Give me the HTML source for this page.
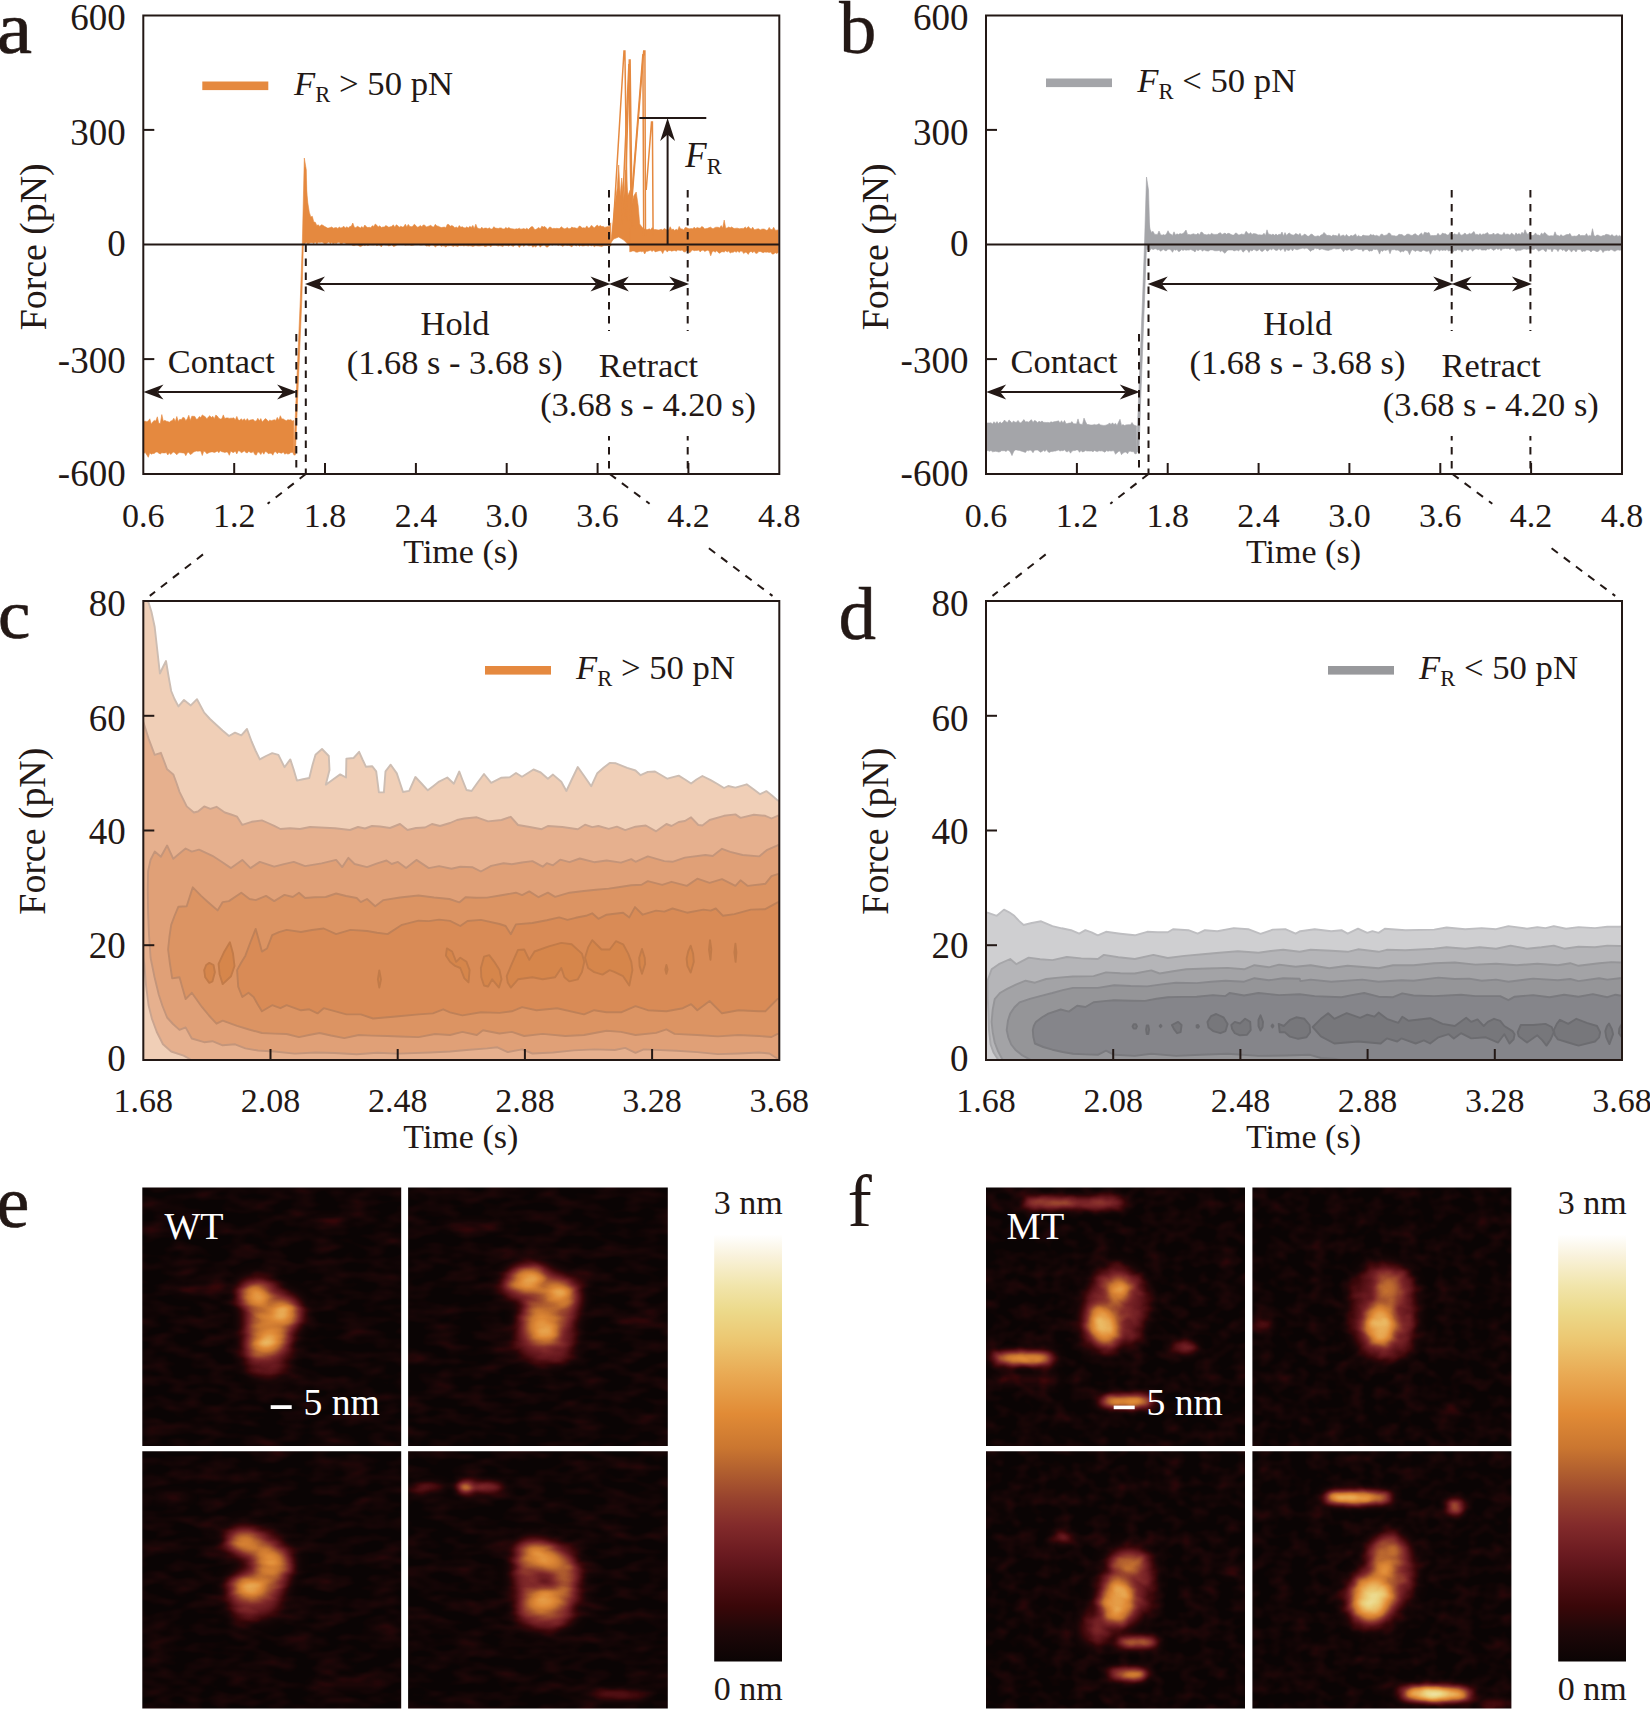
<!DOCTYPE html>
<html lang="en"><head><meta charset="utf-8"><title>Figure</title>
<style>html,body{margin:0;padding:0;background:#fff}svg{display:block}text{font-family:"Liberation Serif", "DejaVu Serif", serif;}</style></head><body>
<svg width="1650" height="1710" viewBox="0 0 1650 1710">
<rect width="1650" height="1710" fill="#fff"/>
<g fill="#E5893F" stroke="#E5893F" stroke-width="0.6" stroke-linejoin="round">
<polygon points="143.8,421.4 145.3,421.3 146.8,421.7 148.3,421 149.8,418.8 151.3,424.2 152.8,421.8 154.3,420.4 155.8,421 157.3,416.8 158.8,423.3 160.3,423.5 161.8,414.6 163.3,421.2 164.8,420.3 166.3,421.2 167.8,421.5 169.3,422.2 170.8,421.1 172.3,420.6 173.8,418.2 175.3,421.5 176.8,416.5 178.3,421.5 179.8,419.2 181.3,419.8 182.8,417.4 184.3,417.8 185.8,420.7 187.3,418.7 188.8,415.3 190.3,420.5 191.8,416.2 193.3,416.3 194.8,416.4 196.3,419.3 197.8,418.9 199.3,416.6 200.8,417.5 202.3,414.9 203.8,415.9 205.3,416.8 206.8,418.9 208.3,417.1 209.8,415.7 211.3,417.5 212.8,416.3 214.3,418.7 215.8,415.1 217.3,416.1 218.8,418.2 220.3,419.1 221.8,418.8 223.3,414.9 224.8,418.6 226.3,417.9 227.8,417.9 229.3,418.4 230.8,418.2 232.3,418.2 233.8,417.8 235.3,419.9 236.8,416.4 238.3,420.1 239.8,420.3 241.3,418.7 242.8,420.4 244.3,418.7 245.8,421 247.3,418.6 248.8,420.7 250.3,420 251.8,419.7 253.3,419.5 254.8,421.2 256.3,420.9 257.8,418.3 259.3,420.8 260.8,418.6 262.3,421.9 263.8,420.2 265.3,418.6 266.8,419.6 268.3,421.4 269.8,420 271.3,420.7 272.8,420.2 274.3,419.7 275.8,420.4 277.3,417.4 278.8,420.2 280.3,415.7 281.8,418.9 283.3,418.9 284.8,420 286.3,420.8 287.8,419.7 289.3,420 290.8,419.7 292.3,420.9 293.8,420.6 293.8,454.1 292.3,452.3 290.8,452.5 289.3,453.7 287.8,454.1 286.3,453.2 284.8,454.2 283.3,452 281.8,453.2 280.3,452.9 278.8,452.3 277.3,453.7 275.8,451.8 274.3,452.1 272.8,455.2 271.3,453.2 269.8,453.2 268.3,453.7 266.8,452 265.3,451.5 263.8,454.2 262.3,451.8 260.8,454.5 259.3,452.5 257.8,451.8 256.3,455.1 254.8,454.5 253.3,451.6 251.8,452.6 250.3,452.4 248.8,451.2 247.3,452.9 245.8,452.5 244.3,450.8 242.8,451.9 241.3,452.8 239.8,451.1 238.3,450.7 236.8,453.9 235.3,451 233.8,452.5 232.3,452.2 230.8,451 229.3,455.3 227.8,452.3 226.3,451.9 224.8,452.5 223.3,452 221.8,451.7 220.3,450.8 218.8,452.7 217.3,451 215.8,451.9 214.3,452.5 212.8,451.9 211.3,451.9 209.8,452.3 208.3,453 206.8,453.7 205.3,451.8 203.8,451 202.3,455.5 200.8,451.1 199.3,451.1 197.8,451.2 196.3,451 194.8,451.5 193.3,452.3 191.8,453.7 190.3,454.6 188.8,452.2 187.3,452.8 185.8,455.7 184.3,453.1 182.8,452.9 181.3,452.7 179.8,452.6 178.3,453 176.8,454.8 175.3,453.3 173.8,452 172.3,452.8 170.8,454.5 169.3,452.7 167.8,454.9 166.3,452.6 164.8,452.9 163.3,452.9 161.8,452.8 160.3,453.9 158.8,453.2 157.3,452 155.8,452 154.3,453.5 152.8,453.5 151.3,454.2 149.8,452.8 148.3,457.3 146.8,454.9 145.3,452.6 143.8,453.2"/>
<polygon points="293.8,455 296,400 300.3,300 302.3,244 304.3,158 306.3,170 307.8,240 303.3,246 301.8,300 297.6,400 295.3,455"/>
<polygon points="304.8,167.1 306.3,189 307.8,202.8 309.3,212.2 310.8,217 312.3,216.3 313.8,222 315.3,222.3 316.8,225.6 318.3,224.8 319.8,226.6 321.3,224.8 322.8,225.2 324.3,226.3 325.8,227.1 327.3,228 328.8,228 330.3,227.5 331.8,226.9 333.3,228.2 334.8,227.8 336.3,227.6 337.8,228.4 339.3,227.1 340.8,228.1 342.3,227.4 343.8,226.3 345.3,228.1 346.8,226.8 348.3,227.9 349.8,226.6 351.3,226.2 352.8,223 354.3,227.3 355.8,227.8 357.3,226.2 358.8,227 360.3,228 361.8,226.6 363.3,228 364.8,225 366.3,226.8 367.8,227.6 369.3,227.3 370.8,227.7 372.3,225.7 373.8,226.4 375.3,224 376.8,225.3 378.3,226.9 379.8,225.8 381.3,227.5 382.8,227 384.3,227 385.8,225.6 387.3,226.3 388.8,227.3 390.3,226.7 391.8,226.4 393.3,224.8 394.8,227.3 396.3,224.8 397.8,225.7 399.3,227.2 400.8,226.2 402.3,227.1 403.8,226.8 405.3,224.2 406.8,226.9 408.3,224.4 409.8,226.4 411.3,226.7 412.8,226.3 414.3,224.2 415.8,225.5 417.3,227.2 418.8,226.8 420.3,225.5 421.8,226.7 423.3,224.9 424.8,225.2 426.3,227 427.8,226.5 429.3,225.9 430.8,225.2 432.3,226.8 433.8,227 435.3,224.3 436.8,226 438.3,226.2 439.8,227 441.3,227.6 442.8,227.3 444.3,227.1 445.8,227.7 447.3,224.4 448.8,224.5 450.3,226.3 451.8,225.5 453.3,226.3 454.8,227.7 456.3,227 457.8,228.1 459.3,225.5 460.8,227.3 462.3,226.7 463.8,227.7 465.3,227.9 466.8,226.8 468.3,228.1 469.8,226.3 471.3,227.5 472.8,225.4 474.3,228.5 475.8,224.2 477.3,228 478.8,228.5 480.3,228.9 481.8,227.2 483.3,228.8 484.8,228.1 486.3,228.1 487.8,228.8 489.3,227.8 490.8,229 492.3,229.1 493.8,226.7 495.3,228 496.8,228.3 498.3,228.5 499.8,227.9 501.3,228 502.8,228.9 504.3,228.9 505.8,227.5 507.3,228.5 508.8,227.5 510.3,228.5 511.8,228.8 513.3,228.9 514.8,229.2 516.3,228.8 517.8,229 519.3,228.2 520.8,229.2 522.3,228.9 523.8,228.5 525.3,229.3 526.8,228.2 528.3,229.6 529.8,228.1 531.3,226.7 532.8,226.7 534.3,229.2 535.8,229.6 537.3,228.5 538.8,227.4 540.3,229.1 541.8,226.2 543.3,227.1 544.8,226.5 546.3,228.1 547.8,229.4 549.3,227.2 550.8,227.2 552.3,228.7 553.8,228.3 555.3,228.5 556.8,228.3 558.3,228.6 559.8,228.5 561.3,226.7 562.8,227.9 564.3,228.8 565.8,228.5 567.3,227.4 568.8,228.7 570.3,228.5 571.8,227.1 573.3,227.8 574.8,227.7 576.3,228.3 577.8,228.2 579.3,226 580.8,226.5 582.3,228.1 583.8,227.7 585.3,228.2 586.8,225.9 588.3,228.1 589.8,227.8 591.3,225.4 592.8,226.4 594.3,227.9 595.8,226.3 597.3,225.1 598.8,226.6 600.3,225.5 601.8,226.6 603.3,226.4 604.8,227.4 606.3,226.9 607.8,226.6 609.3,226.7 610.8,222.8 610.8,246 609.3,245.9 607.8,245.5 606.3,245.4 604.8,245.4 603.3,245.7 601.8,246.5 600.3,246.2 598.8,246 597.3,245.9 595.8,245.7 594.3,246.8 592.8,245.3 591.3,245.9 589.8,245.1 588.3,246.1 586.8,245.6 585.3,245.5 583.8,245.9 582.3,246 580.8,245.3 579.3,246.2 577.8,244.8 576.3,245.9 574.8,245.1 573.3,245.1 571.8,246.9 570.3,245.9 568.8,245.3 567.3,245.5 565.8,245.1 564.3,245.2 562.8,246.4 561.3,245.5 559.8,244.5 558.3,245.6 556.8,244.4 555.3,244.7 553.8,244.4 552.3,245.2 550.8,244.4 549.3,245.2 547.8,247.1 546.3,247.1 544.8,245 543.3,245 541.8,245.4 540.3,247.2 538.8,244.7 537.3,244.9 535.8,247.1 534.3,246.1 532.8,247.2 531.3,245 529.8,245.8 528.3,245.8 526.8,244.5 525.3,244.8 523.8,246.5 522.3,244.6 520.8,245.4 519.3,247.4 517.8,245.1 516.3,244.6 514.8,245.1 513.3,246.5 511.8,245.8 510.3,244.9 508.8,246.2 507.3,245.5 505.8,245.4 504.3,245.3 502.8,246.5 501.3,246 499.8,245.6 498.3,246.1 496.8,245.6 495.3,245.2 493.8,245.3 492.3,245.2 490.8,246.8 489.3,245.6 487.8,245.6 486.3,246.3 484.8,246.5 483.3,245.6 481.8,245.7 480.3,245.9 478.8,246.1 477.3,245.9 475.8,245.6 474.3,246 472.8,246.5 471.3,246 469.8,245.7 468.3,246.1 466.8,245.7 465.3,245.6 463.8,246 462.3,245.5 460.8,245.7 459.3,245.4 457.8,246.4 456.3,246.1 454.8,245.7 453.3,246.4 451.8,245.8 450.3,245.4 448.8,245.8 447.3,245.8 445.8,247 444.3,246.1 442.8,245.7 441.3,246.4 439.8,245.1 438.3,245.3 436.8,245.7 435.3,247.1 433.8,245.2 432.3,245 430.8,244.9 429.3,246.3 427.8,245.8 426.3,246 424.8,244.8 423.3,244.7 421.8,245.1 420.3,245.1 418.8,244.6 417.3,244.7 415.8,244.7 414.3,244.9 412.8,245.3 411.3,245.4 409.8,244.9 408.3,245 406.8,245 405.3,245.3 403.8,244.6 402.3,244.7 400.8,244.6 399.3,244.6 397.8,244.6 396.3,245.3 394.8,246.2 393.3,246.4 391.8,244.5 390.3,245.4 388.8,246 387.3,245 385.8,245 384.3,244.6 382.8,244.4 381.3,246.9 379.8,245.1 378.3,244.9 376.8,245.7 375.3,244.5 373.8,245 372.3,245 370.8,244.8 369.3,244.9 367.8,245.6 366.3,244.8 364.8,245.6 363.3,245 361.8,246 360.3,246.6 358.8,245.8 357.3,245 355.8,245 354.3,245.6 352.8,245.5 351.3,244.6 349.8,244.6 348.3,244.3 346.8,244.5 345.3,243.2 343.8,242.8 342.3,243.5 340.8,244.5 339.3,242.2 337.8,242.4 336.3,243.5 334.8,242.9 333.3,244 331.8,242.6 330.3,243.7 328.8,242 327.3,242.9 325.8,243.7 324.3,243.7 322.8,242.4 321.3,242.2 319.8,242.5 318.3,242.3 316.8,244 315.3,242 313.8,243.7 312.3,242.7 310.8,242.7 309.3,243.3 307.8,245 306.3,242.3 304.8,242.3"/>
<polygon points="610.7,243 612.7,225 614.7,205 617.2,188 618.7,165 620.2,196 621.7,178 623.7,200 625.7,170 627.7,196 630.2,190 631.7,205 633.7,196 636.2,192 638.2,206 639.7,224 642.7,228 645.7,230 645.7,246 629.7,246 623.7,240 618.7,237 613.7,239"/>
<polygon points="629.7,228.8 631.2,225.8 632.7,224.1 634.2,228.8 635.7,228 637.2,227.2 638.7,229.1 640.2,229 641.7,229 643.2,229 644.7,229.2 646.2,229.4 647.7,229.6 649.2,228.8 650.7,229.8 652.2,227.6 653.7,229.7 655.2,229.5 656.7,229.7 658.2,230.1 659.7,229.8 661.2,229.3 662.7,230.1 664.2,228.5 665.7,229.3 667.2,230 668.7,229.8 670.2,226.7 671.7,229.7 673.2,229.1 674.7,230.4 676.2,229.3 677.7,230.2 679.2,226.4 680.7,228.9 682.2,228.9 683.7,229.9 685.2,227.4 686.7,227.7 688.2,228.6 689.7,228.8 691.2,228.6 692.7,228.8 694.2,227.2 695.7,228.6 697.2,227.5 698.7,228 700.2,228.3 701.7,226.5 703.2,227.2 704.7,228.9 706.2,228.5 707.7,228.3 709.2,227.6 710.7,227.2 712.2,228.6 713.7,228.4 715.2,227.4 716.7,227.2 718.2,227.3 719.7,228 721.2,225.6 722.7,227.9 724.2,220.1 725.7,228.2 727.2,227.9 728.7,227 730.2,227.8 731.7,226.9 733.2,228.1 734.7,228.5 736.2,228.2 737.7,228.2 739.2,228.8 740.7,228.6 742.2,228.4 743.7,228.4 745.2,227 746.7,228.4 748.2,226.6 749.7,227.9 751.2,229.3 752.7,227.2 754.2,229.7 755.7,229.4 757.2,228.9 758.7,228.8 760.2,229.9 761.7,229.2 763.2,229 764.7,229.3 766.2,230.3 767.7,230.1 769.2,227.4 770.7,229.5 772.2,229.7 773.7,227.3 775.2,230.2 776.7,230.2 778.2,229.9 778.2,252.5 776.7,253.4 775.2,252.7 773.7,253.9 772.2,254.1 770.7,252 769.2,252.5 767.7,252.1 766.2,252.2 764.7,251.9 763.2,252.7 761.7,252.1 760.2,251.4 758.7,251.6 757.2,253.3 755.7,253.3 754.2,251.2 752.7,252.7 751.2,251.4 749.7,251.9 748.2,254.4 746.7,252.6 745.2,252.2 743.7,253.6 742.2,251.3 740.7,251 739.2,252.4 737.7,251.1 736.2,252.3 734.7,251.3 733.2,252.3 731.7,252.2 730.2,253.1 728.7,250.9 727.2,252 725.7,250.7 724.2,252.1 722.7,251.7 721.2,252 719.7,253.3 718.2,252.4 716.7,250.8 715.2,252.2 713.7,251.1 712.2,251.7 710.7,255.8 709.2,251 707.7,250.2 706.2,250.7 704.7,251.6 703.2,250 701.7,250.4 700.2,251.9 698.7,250.1 697.2,250.4 695.7,250.4 694.2,250.7 692.7,249.9 691.2,251 689.7,252.9 688.2,250.5 686.7,250.6 685.2,252 683.7,251.8 682.2,249.9 680.7,250.5 679.2,250.3 677.7,250 676.2,251.2 674.7,250.4 673.2,250.7 671.7,251.2 670.2,250.4 668.7,250.6 667.2,251.9 665.7,250 664.2,250.2 662.7,253.6 661.2,250.7 659.7,250.7 658.2,251 656.7,251.4 655.2,251.9 653.7,250.1 652.2,251.6 650.7,250.3 649.2,250.7 647.7,251.3 646.2,251.3 644.7,254 643.2,251.1 641.7,251.8 640.2,251.2 638.7,251.7 637.2,252.2 635.7,252 634.2,251 632.7,250.9 631.2,251.5 629.7,251.8"/>
</g>
<g fill="none" stroke="#E5893F" stroke-width="1.5" stroke-linejoin="miter" stroke-miterlimit="10">
<polyline points="612.7,236 624,51 624.9,51 627.2,222"/>
<polyline points="624.7,220 629.3,60 630.1,60 632.2,228"/>
<polyline points="621.7,225 628.9,64 631.2,215"/>
<polyline points="630.7,215 643.7,51 644.9,51 645.5,236"/>
<polyline points="629.7,222 642.9,54 643.7,236"/>
<polyline points="646.2,190 651.5,122 652.4,122 653.1,236"/>
</g>
<line x1="143.3" y1="244.5" x2="779.3" y2="244.5" stroke="#231815" stroke-width="2"/>
<rect x="143.3" y="15.5" width="636" height="458.5" fill="none" stroke="#231815" stroke-width="2"/>
<line x1="234.2" y1="474" x2="234.2" y2="463" stroke="#231815" stroke-width="2"/>
<line x1="325" y1="474" x2="325" y2="463" stroke="#231815" stroke-width="2"/>
<line x1="415.9" y1="474" x2="415.9" y2="463" stroke="#231815" stroke-width="2"/>
<line x1="506.7" y1="474" x2="506.7" y2="463" stroke="#231815" stroke-width="2"/>
<line x1="597.6" y1="474" x2="597.6" y2="463" stroke="#231815" stroke-width="2"/>
<line x1="688.4" y1="474" x2="688.4" y2="463" stroke="#231815" stroke-width="2"/>
<line x1="143.3" y1="129.9" x2="154.3" y2="129.9" stroke="#231815" stroke-width="2"/>
<line x1="143.3" y1="359.1" x2="154.3" y2="359.1" stroke="#231815" stroke-width="2"/>
<text x="143.3" y="527" font-size="34" text-anchor="middle" fill="#231815">0.6</text>
<text x="234.2" y="527" font-size="34" text-anchor="middle" fill="#231815">1.2</text>
<text x="325" y="527" font-size="34" text-anchor="middle" fill="#231815">1.8</text>
<text x="415.9" y="527" font-size="34" text-anchor="middle" fill="#231815">2.4</text>
<text x="506.7" y="527" font-size="34" text-anchor="middle" fill="#231815">3.0</text>
<text x="597.6" y="527" font-size="34" text-anchor="middle" fill="#231815">3.6</text>
<text x="688.4" y="527" font-size="34" text-anchor="middle" fill="#231815">4.2</text>
<text x="779.3" y="527" font-size="34" text-anchor="middle" fill="#231815">4.8</text>
<text x="125.7" y="29.6" font-size="37" text-anchor="end" fill="#231815">600</text>
<text x="125.7" y="144.7" font-size="37" text-anchor="end" fill="#231815">300</text>
<text x="125.7" y="256.4" font-size="37" text-anchor="end" fill="#231815">0</text>
<text x="125.7" y="372.5" font-size="37" text-anchor="end" fill="#231815">-300</text>
<text x="125.7" y="486.1" font-size="37" text-anchor="end" fill="#231815">-600</text>
<text x="460.8" y="562.5" font-size="34" text-anchor="middle" fill="#231815">Time (s)</text>
<text transform="translate(45.6 246.8) rotate(-90)" font-size="37.8" text-anchor="middle" fill="#231815">Force (pN)</text>
<line x1="296.3" y1="334" x2="296.3" y2="474" stroke="#231815" stroke-width="2" stroke-dasharray="7.5 6.5"/>
<line x1="305.8" y1="244.5" x2="305.8" y2="474" stroke="#231815" stroke-width="2" stroke-dasharray="7.5 6.5"/>
<line x1="609" y1="190" x2="609" y2="331" stroke="#231815" stroke-width="2" stroke-dasharray="7.5 6.5"/>
<line x1="609" y1="436" x2="609" y2="474" stroke="#231815" stroke-width="2" stroke-dasharray="7.5 6.5" stroke-dashoffset="3"/>
<line x1="687.7" y1="190" x2="687.7" y2="331" stroke="#231815" stroke-width="2" stroke-dasharray="7.5 6.5"/>
<line x1="687.7" y1="436" x2="687.7" y2="474" stroke="#231815" stroke-width="2" stroke-dasharray="7.5 6.5" stroke-dashoffset="3"/>
<line x1="157.5" y1="392" x2="283.1" y2="392" stroke="#231815" stroke-width="2"/>
<path d="M143.5 392 L163.5 384.4 L157.5 392 L163.5 399.6 Z" fill="#231815"/>
<path d="M297.1 392 L277.1 384.4 L283.1 392 L277.1 399.6 Z" fill="#231815"/>
<line x1="319" y1="284" x2="596.5" y2="284" stroke="#231815" stroke-width="2"/>
<path d="M305 284 L325 276.4 L319 284 L325 291.6 Z" fill="#231815"/>
<path d="M610.5 284 L590.5 276.4 L596.5 284 L590.5 291.6 Z" fill="#231815"/>
<line x1="622.9" y1="284" x2="675.2" y2="284" stroke="#231815" stroke-width="2"/>
<path d="M608.9 284 L628.9 276.4 L622.9 284 L628.9 291.6 Z" fill="#231815"/>
<path d="M689.2 284 L669.2 276.4 L675.2 284 L669.2 291.6 Z" fill="#231815"/>
<text x="221.3" y="372.5" font-size="34.4" text-anchor="middle" fill="#231815">Contact</text>
<text x="455" y="335" font-size="34.4" text-anchor="middle" fill="#231815">Hold</text>
<text x="454.8" y="374" font-size="34.4" text-anchor="middle" fill="#231815">(1.68 s - 3.68 s)</text>
<text x="648.5" y="376.5" font-size="34.4" text-anchor="middle" fill="#231815">Retract</text>
<text x="648.1" y="415.5" font-size="34.4" text-anchor="middle" fill="#231815">(3.68 s - 4.20 s)</text>
<rect x="202.3" y="81.5" width="66" height="8.6" fill="#E5893F"/>
<text x="294.1" y="95" font-size="34.7" text-anchor="start" fill="#231815"><tspan font-style="italic">F</tspan><tspan dy="7" font-size="22.6">R</tspan><tspan dy="-7"> &gt; 50 pN</tspan></text>
<line x1="639.3" y1="118" x2="706.3" y2="118" stroke="#231815" stroke-width="2"/>
<line x1="667.6" y1="132" x2="667.6" y2="244.5" stroke="#231815" stroke-width="2"/>
<path d="M667.6 118 l-7.4 23 l7.4 -6.5 l7.4 6.5 Z" fill="#231815"/>
<text x="685.3" y="167" font-size="35" text-anchor="start" fill="#231815"><tspan font-style="italic">F</tspan><tspan dy="7" font-size="22.5">R</tspan></text>
<line x1="305.8" y1="474" x2="267.6" y2="503.8" stroke="#231815" stroke-width="2" stroke-dasharray="7.8 7.4"/>
<line x1="203" y1="554.4" x2="149.8" y2="595.9" stroke="#231815" stroke-width="2" stroke-dasharray="7.8 7.4"/>
<line x1="609.7" y1="474" x2="649.6" y2="503.8" stroke="#231815" stroke-width="2" stroke-dasharray="7.8 7.4"/>
<line x1="708.9" y1="548.3" x2="772.5" y2="595.9" stroke="#231815" stroke-width="2" stroke-dasharray="7.8 7.4"/>
<g fill="#A4A5A9" stroke="#A4A5A9" stroke-width="0.6" stroke-linejoin="round">
<polygon points="986.5,423.1 988,422.9 989.5,422.9 991,422.8 992.5,424 994,421.7 995.5,423.4 997,421.6 998.5,423.8 1000,421.8 1001.5,423.2 1003,422.2 1004.5,420 1006,421.8 1007.5,422.5 1009,419.9 1010.5,421.3 1012,422.9 1013.5,421 1015,422.3 1016.5,422.2 1018,420.4 1019.5,422.4 1021,423.1 1022.5,421 1024,419.6 1025.5,422.1 1027,421.6 1028.5,422.2 1030,420.7 1031.5,419.7 1033,422.6 1034.5,420.5 1036,421.1 1037.5,422.7 1039,421.2 1040.5,422.1 1042,421 1043.5,422.3 1045,422.4 1046.5,422.5 1048,422.4 1049.5,422.7 1051,421.8 1052.5,422.3 1054,421.8 1055.5,421.6 1057,421.3 1058.5,420.8 1060,423.1 1061.5,420.7 1063,423.1 1064.5,420.5 1066,423.7 1067.5,423.5 1069,423.1 1070.5,423 1072,421.6 1073.5,423.8 1075,423.8 1076.5,423.9 1078,418.9 1079.5,424.1 1081,424.2 1082.5,424.4 1084,418.1 1085.5,421.6 1087,424.6 1088.5,424.5 1090,424.9 1091.5,425 1093,424.9 1094.5,424.4 1096,425 1097.5,424.6 1099,423.7 1100.5,424.9 1102,425.2 1103.5,425.4 1105,425.4 1106.5,424.9 1108,424.5 1109.5,422.9 1111,424.5 1112.5,422.8 1114,424.6 1115.5,423.3 1117,425.4 1118.5,422.3 1120,419.3 1121.5,425.4 1123,424.6 1124.5,425.5 1126,424.9 1127.5,424.7 1129,424.7 1130.5,424.7 1132,422.5 1133.5,424.8 1135,425.5 1136.5,425.9 1136.5,453.5 1135,453.9 1133.5,451.4 1132,451.8 1130.5,451.2 1129,451.3 1127.5,453.8 1126,451.9 1124.5,452.2 1123,453.1 1121.5,454.7 1120,450.9 1118.5,451.4 1117,452.7 1115.5,454.3 1114,450.8 1112.5,450.8 1111,451.1 1109.5,450.8 1108,451.3 1106.5,450.6 1105,452.2 1103.5,451.5 1102,450.8 1100.5,451 1099,450.7 1097.5,451.6 1096,451.2 1094.5,450.4 1093,451.7 1091.5,450.9 1090,451.1 1088.5,451 1087,451 1085.5,450.6 1084,451.4 1082.5,452 1081,450.5 1079.5,452.3 1078,449.9 1076.5,449.9 1075,450.5 1073.5,450.6 1072,451.1 1070.5,453.2 1069,450.6 1067.5,451.7 1066,451.6 1064.5,449.7 1063,450.7 1061.5,450.6 1060,451 1058.5,450.1 1057,450.4 1055.5,451.1 1054,451.1 1052.5,451.6 1051,451.4 1049.5,452.4 1048,451.8 1046.5,449.6 1045,451.5 1043.5,450.3 1042,451.4 1040.5,452.2 1039,451 1037.5,450.1 1036,450.1 1034.5,450.2 1033,452.7 1031.5,450.7 1030,449.9 1028.5,450.8 1027,450.2 1025.5,452.4 1024,451.9 1022.5,451.4 1021,451 1019.5,450.4 1018,450.3 1016.5,449.9 1015,449.9 1013.5,451.9 1012,455.6 1010.5,452.4 1009,450.4 1007.5,450.2 1006,451.5 1004.5,450.7 1003,450.7 1001.5,450.7 1000,451.8 998.5,452 997,451.5 995.5,451.3 994,451.6 992.5,451.8 991,450.4 989.5,451.3 988,450.5 986.5,450.9"/>
<polygon points="1136.5,452 1138.5,400 1142.5,300 1144.5,244 1146.5,177 1148.5,190 1150,240 1146.5,246 1144.5,300 1140.7,400 1139,452"/>
<polygon points="1147,201 1148.5,222.2 1150,229.2 1151.5,232.4 1153,231.3 1154.5,234.2 1156,234.4 1157.5,234.4 1159,231 1160.5,234.4 1162,235.3 1163.5,234.6 1165,235.3 1166.5,233.7 1168,230.7 1169.5,233.6 1171,234.3 1172.5,235.4 1174,231.8 1175.5,235.1 1177,233.8 1178.5,234.6 1180,233.6 1181.5,234 1183,233.5 1184.5,232.1 1186,230 1187.5,234.4 1189,234.6 1190.5,234.8 1192,234.2 1193.5,233.8 1195,234.4 1196.5,234.5 1198,233.3 1199.5,235.1 1201,232 1202.5,232.6 1204,234.4 1205.5,234.6 1207,235 1208.5,234.1 1210,234.9 1211.5,233.2 1213,234.2 1214.5,234.4 1216,234.4 1217.5,234.3 1219,233.2 1220.5,232.7 1222,234.6 1223.5,233.7 1225,233.1 1226.5,234.3 1228,233.3 1229.5,233.5 1231,234.5 1232.5,235 1234,235.1 1235.5,233 1237,233.4 1238.5,235 1240,234.8 1241.5,234 1243,234.4 1244.5,234.4 1246,231.3 1247.5,232.7 1249,234.3 1250.5,232.6 1252,234.4 1253.5,233.6 1255,233.7 1256.5,234.1 1258,235 1259.5,234.8 1261,235 1262.5,235 1264,233.2 1265.5,235.6 1267,229.8 1268.5,234.3 1270,234.2 1271.5,234.9 1273,234.1 1274.5,235.2 1276,234 1277.5,235.3 1279,234.3 1280.5,234.6 1282,232 1283.5,235.9 1285,232.6 1286.5,235.4 1288,233.7 1289.5,233.1 1291,234.5 1292.5,234.9 1294,235.2 1295.5,233.6 1297,234.1 1298.5,235.1 1300,233.3 1301.5,236.2 1303,235.5 1304.5,234 1306,234.8 1307.5,236.1 1309,236.3 1310.5,234.4 1312,234.1 1313.5,235.6 1315,236.5 1316.5,236.2 1318,235.8 1319.5,236.4 1321,235 1322.5,234.6 1324,232.4 1325.5,233.9 1327,235.6 1328.5,235.3 1330,235.5 1331.5,236.3 1333,234.9 1334.5,235.5 1336,235.5 1337.5,236.3 1339,233.4 1340.5,236.4 1342,235.5 1343.5,234.9 1345,236.6 1346.5,234.4 1348,236.3 1349.5,236.6 1351,235.3 1352.5,235.9 1354,235.2 1355.5,233.9 1357,236.8 1358.5,235.4 1360,236.5 1361.5,236.5 1363,235.1 1364.5,235.5 1366,235.8 1367.5,235.8 1369,235.9 1370.5,234.3 1372,235.3 1373.5,234.7 1375,235.9 1376.5,235.3 1378,236 1379.5,236.4 1381,234.2 1382.5,234.2 1384,235.8 1385.5,235.2 1387,234.9 1388.5,233 1390,233.3 1391.5,235.4 1393,235.8 1394.5,235.7 1396,236.3 1397.5,235.7 1399,234.3 1400.5,234.5 1402,234.6 1403.5,235.8 1405,236.1 1406.5,234.4 1408,234.1 1409.5,234.4 1411,235.4 1412.5,235.3 1414,234.2 1415.5,233.7 1417,235.3 1418.5,235.7 1420,234.3 1421.5,232.9 1423,235.6 1424.5,232.2 1426,232.7 1427.5,233.1 1429,232.5 1430.5,235.7 1432,235.6 1433.5,235.6 1435,235.4 1436.5,235.6 1438,233.3 1439.5,235.3 1441,235.1 1442.5,233 1444,233.8 1445.5,233.7 1447,235 1448.5,235 1450,232.6 1451.5,234.9 1453,234.8 1454.5,233.8 1456,234.5 1457.5,234.8 1459,232.2 1460.5,234.9 1462,235.2 1463.5,234.2 1465,233 1466.5,234.7 1468,234.5 1469.5,233.3 1471,234.2 1472.5,232.8 1474,231.5 1475.5,234.7 1477,234.2 1478.5,234.9 1480,233.6 1481.5,235 1483,233.9 1484.5,234.2 1486,233.4 1487.5,232.6 1489,234.7 1490.5,234.6 1492,234.6 1493.5,233 1495,234.9 1496.5,233.9 1498,233.6 1499.5,234.4 1501,234.9 1502.5,234.8 1504,232.4 1505.5,234.7 1507,234 1508.5,234.3 1510,235.2 1511.5,233.1 1513,234.2 1514.5,235.4 1516,232.8 1517.5,234.5 1519,233.6 1520.5,234.7 1522,232.2 1523.5,233.9 1525,229.7 1526.5,232.9 1528,234.6 1529.5,232.3 1531,235.6 1532.5,235.5 1534,235.1 1535.5,232.9 1537,235 1538.5,235 1540,235.8 1541.5,233 1543,234.4 1544.5,232.4 1546,233.6 1547.5,235.2 1549,236.1 1550.5,235.8 1552,235.8 1553.5,236 1555,231.8 1556.5,235.3 1558,235.4 1559.5,236.3 1561,234.6 1562.5,236.1 1564,235.9 1565.5,235 1567,234.5 1568.5,234.5 1570,233.4 1571.5,236.3 1573,236.3 1574.5,236 1576,236.3 1577.5,235.8 1579,234.1 1580.5,235.7 1582,235.4 1583.5,235.5 1585,235.7 1586.5,233.6 1588,236.2 1589.5,235.4 1591,236.1 1592.5,228.7 1594,235.7 1595.5,236.2 1597,235 1598.5,235.3 1600,236.3 1601.5,236.2 1603,235.6 1604.5,235.4 1606,234.3 1607.5,234.5 1609,234.9 1610.5,235.7 1612,234.6 1613.5,235.9 1615,236.3 1616.5,234.9 1618,236.4 1619.5,235.4 1621,236.5 1621,250.1 1619.5,250.2 1618,249.8 1616.5,250.2 1615,251.3 1613.5,250.8 1612,249.7 1610.5,249.8 1609,250.8 1607.5,250.3 1606,250.6 1604.5,250.7 1603,252.6 1601.5,249.9 1600,249.6 1598.5,251.2 1597,251.7 1595.5,251.1 1594,250.2 1592.5,250.4 1591,251.9 1589.5,250.4 1588,250 1586.5,250.1 1585,251.3 1583.5,250.9 1582,251.7 1580.5,249.6 1579,249.5 1577.5,249.6 1576,252 1574.5,250 1573,249.9 1571.5,252.1 1570,250.1 1568.5,249.3 1567,251.2 1565.5,251.4 1564,249.4 1562.5,250.6 1561,249.1 1559.5,249.1 1558,251.6 1556.5,249.4 1555,249.1 1553.5,248.9 1552,251.9 1550.5,248.8 1549,249.5 1547.5,248.5 1546,251.8 1544.5,250.7 1543,249.1 1541.5,249.7 1540,250.5 1538.5,251.2 1537,249.2 1535.5,248.4 1534,249.5 1532.5,249.6 1531,249 1529.5,249.2 1528,249.1 1526.5,249.4 1525,249 1523.5,249.1 1522,249.6 1520.5,250.3 1519,250.2 1517.5,250.3 1516,251.2 1514.5,248.7 1513,248.3 1511.5,248.4 1510,249.5 1508.5,248.5 1507,248.7 1505.5,248.4 1504,248.7 1502.5,248.8 1501,250.7 1499.5,248.5 1498,249.5 1496.5,248.4 1495,249.5 1493.5,250.4 1492,249.1 1490.5,248.4 1489,249.3 1487.5,248.9 1486,250.2 1484.5,249.9 1483,250.1 1481.5,250 1480,248.7 1478.5,249.6 1477,248.9 1475.5,249.1 1474,249.8 1472.5,251.2 1471,249.1 1469.5,249.3 1468,250.7 1466.5,249.9 1465,249.6 1463.5,249.4 1462,252.2 1460.5,249.8 1459,250.1 1457.5,249.6 1456,250.8 1454.5,250.3 1453,252.3 1451.5,250.8 1450,250.5 1448.5,250.9 1447,249.5 1445.5,250.5 1444,249.9 1442.5,250.5 1441,249.7 1439.5,251.1 1438,249.7 1436.5,249.6 1435,250.4 1433.5,249.7 1432,250.6 1430.5,254.3 1429,250.5 1427.5,251.3 1426,251.3 1424.5,250.5 1423,250 1421.5,251.6 1420,251.4 1418.5,250.8 1417,250.2 1415.5,251.4 1414,250.6 1412.5,249.8 1411,251.1 1409.5,254.7 1408,251 1406.5,250.5 1405,249.9 1403.5,251.8 1402,250.9 1400.5,252.3 1399,250.4 1397.5,250.1 1396,250.2 1394.5,249.6 1393,249.7 1391.5,249.7 1390,253.7 1388.5,249.6 1387,249.9 1385.5,250.5 1384,249.8 1382.5,251.4 1381,250.2 1379.5,254.1 1378,250.1 1376.5,249.3 1375,249.6 1373.5,249.1 1372,251 1370.5,250.7 1369,251.3 1367.5,249.4 1366,249.4 1364.5,249.8 1363,251.4 1361.5,249.2 1360,249.5 1358.5,249.4 1357,248.8 1355.5,248.9 1354,249.6 1352.5,250.5 1351,250.7 1349.5,249 1348,250 1346.5,250.2 1345,249.4 1343.5,251.7 1342,249.5 1340.5,248.3 1339,248.9 1337.5,248.9 1336,249.1 1334.5,248.6 1333,248.7 1331.5,249.6 1330,249.8 1328.5,250.5 1327,250.2 1325.5,250.1 1324,249.5 1322.5,249.1 1321,249 1319.5,249.9 1318,248.4 1316.5,248.8 1315,248.1 1313.5,249.9 1312,249.9 1310.5,251.5 1309,249.8 1307.5,248.6 1306,248.1 1304.5,248.8 1303,248.1 1301.5,248.4 1300,248.8 1298.5,249.3 1297,249.8 1295.5,249.2 1294,248.5 1292.5,250.9 1291,248.6 1289.5,250.2 1288,250.5 1286.5,249.3 1285,251.7 1283.5,248.6 1282,249.3 1280.5,250.6 1279,248.6 1277.5,250.2 1276,250.6 1274.5,249.4 1273,248.6 1271.5,249.9 1270,248.8 1268.5,250.6 1267,251.2 1265.5,248.9 1264,250.1 1262.5,251.4 1261,251.1 1259.5,249 1258,250.4 1256.5,250.9 1255,249.8 1253.5,249.5 1252,251.1 1250.5,249.9 1249,252.5 1247.5,250 1246,249.4 1244.5,250.9 1243,252.2 1241.5,249.7 1240,249.6 1238.5,250.9 1237,249.9 1235.5,250.6 1234,250.9 1232.5,250 1231,250 1229.5,250 1228,250.1 1226.5,251.3 1225,253.3 1223.5,252.2 1222,250.4 1220.5,251.8 1219,250.3 1217.5,250.7 1216,250.8 1214.5,250.7 1213,250 1211.5,249.9 1210,249.9 1208.5,251.1 1207,250.9 1205.5,250.6 1204,249.7 1202.5,251.3 1201,249.5 1199.5,249.7 1198,250.7 1196.5,249.5 1195,252 1193.5,250.7 1192,250 1190.5,249.5 1189,250.1 1187.5,250 1186,250.2 1184.5,249.7 1183,250.4 1181.5,249.5 1180,251.2 1178.5,251.6 1177,249.4 1175.5,250.3 1174,249.4 1172.5,252.3 1171,250 1169.5,249.3 1168,249.2 1166.5,250.7 1165,250.7 1163.5,249.2 1162,250.3 1160.5,251.3 1159,249.5 1157.5,249.9 1156,248.7 1154.5,248.9 1153,249.6 1151.5,248.5 1150,250.5 1148.5,250.4 1147,249.1"/>
</g>
<line x1="986" y1="244.5" x2="1622" y2="244.5" stroke="#231815" stroke-width="2"/>
<rect x="986" y="15.5" width="636" height="458.5" fill="none" stroke="#231815" stroke-width="2"/>
<line x1="1076.9" y1="474" x2="1076.9" y2="463" stroke="#231815" stroke-width="2"/>
<line x1="1167.7" y1="474" x2="1167.7" y2="463" stroke="#231815" stroke-width="2"/>
<line x1="1258.6" y1="474" x2="1258.6" y2="463" stroke="#231815" stroke-width="2"/>
<line x1="1349.4" y1="474" x2="1349.4" y2="463" stroke="#231815" stroke-width="2"/>
<line x1="1440.3" y1="474" x2="1440.3" y2="463" stroke="#231815" stroke-width="2"/>
<line x1="1531.1" y1="474" x2="1531.1" y2="463" stroke="#231815" stroke-width="2"/>
<line x1="986" y1="129.9" x2="997" y2="129.9" stroke="#231815" stroke-width="2"/>
<line x1="986" y1="359.1" x2="997" y2="359.1" stroke="#231815" stroke-width="2"/>
<text x="986" y="527" font-size="34" text-anchor="middle" fill="#231815">0.6</text>
<text x="1076.9" y="527" font-size="34" text-anchor="middle" fill="#231815">1.2</text>
<text x="1167.7" y="527" font-size="34" text-anchor="middle" fill="#231815">1.8</text>
<text x="1258.6" y="527" font-size="34" text-anchor="middle" fill="#231815">2.4</text>
<text x="1349.4" y="527" font-size="34" text-anchor="middle" fill="#231815">3.0</text>
<text x="1440.3" y="527" font-size="34" text-anchor="middle" fill="#231815">3.6</text>
<text x="1531.1" y="527" font-size="34" text-anchor="middle" fill="#231815">4.2</text>
<text x="1622" y="527" font-size="34" text-anchor="middle" fill="#231815">4.8</text>
<text x="968.4" y="29.6" font-size="37" text-anchor="end" fill="#231815">600</text>
<text x="968.4" y="144.7" font-size="37" text-anchor="end" fill="#231815">300</text>
<text x="968.4" y="256.4" font-size="37" text-anchor="end" fill="#231815">0</text>
<text x="968.4" y="372.5" font-size="37" text-anchor="end" fill="#231815">-300</text>
<text x="968.4" y="486.1" font-size="37" text-anchor="end" fill="#231815">-600</text>
<text x="1303.5" y="562.5" font-size="34" text-anchor="middle" fill="#231815">Time (s)</text>
<text transform="translate(888.3 246.8) rotate(-90)" font-size="37.8" text-anchor="middle" fill="#231815">Force (pN)</text>
<line x1="1139" y1="334" x2="1139" y2="474" stroke="#231815" stroke-width="2" stroke-dasharray="7.5 6.5"/>
<line x1="1148.5" y1="244.5" x2="1148.5" y2="474" stroke="#231815" stroke-width="2" stroke-dasharray="7.5 6.5"/>
<line x1="1451.7" y1="190" x2="1451.7" y2="331" stroke="#231815" stroke-width="2" stroke-dasharray="7.5 6.5"/>
<line x1="1451.7" y1="436" x2="1451.7" y2="474" stroke="#231815" stroke-width="2" stroke-dasharray="7.5 6.5" stroke-dashoffset="3"/>
<line x1="1530.4" y1="190" x2="1530.4" y2="331" stroke="#231815" stroke-width="2" stroke-dasharray="7.5 6.5"/>
<line x1="1530.4" y1="436" x2="1530.4" y2="474" stroke="#231815" stroke-width="2" stroke-dasharray="7.5 6.5" stroke-dashoffset="3"/>
<line x1="1000.2" y1="392" x2="1125.8" y2="392" stroke="#231815" stroke-width="2"/>
<path d="M986.2 392 L1006.2 384.4 L1000.2 392 L1006.2 399.6 Z" fill="#231815"/>
<path d="M1139.8 392 L1119.8 384.4 L1125.8 392 L1119.8 399.6 Z" fill="#231815"/>
<line x1="1161.7" y1="284" x2="1439.2" y2="284" stroke="#231815" stroke-width="2"/>
<path d="M1147.7 284 L1167.7 276.4 L1161.7 284 L1167.7 291.6 Z" fill="#231815"/>
<path d="M1453.2 284 L1433.2 276.4 L1439.2 284 L1433.2 291.6 Z" fill="#231815"/>
<line x1="1465.6" y1="284" x2="1517.9" y2="284" stroke="#231815" stroke-width="2"/>
<path d="M1451.6 284 L1471.6 276.4 L1465.6 284 L1471.6 291.6 Z" fill="#231815"/>
<path d="M1531.9 284 L1511.9 276.4 L1517.9 284 L1511.9 291.6 Z" fill="#231815"/>
<text x="1064" y="372.5" font-size="34.4" text-anchor="middle" fill="#231815">Contact</text>
<text x="1297.7" y="335" font-size="34.4" text-anchor="middle" fill="#231815">Hold</text>
<text x="1297.5" y="374" font-size="34.4" text-anchor="middle" fill="#231815">(1.68 s - 3.68 s)</text>
<text x="1491.2" y="376.5" font-size="34.4" text-anchor="middle" fill="#231815">Retract</text>
<text x="1490.8" y="415.5" font-size="34.4" text-anchor="middle" fill="#231815">(3.68 s - 4.20 s)</text>
<rect x="1046" y="78.5" width="66" height="8.6" fill="#A4A5A9"/>
<text x="1137.3" y="91.5" font-size="34.7" text-anchor="start" fill="#231815"><tspan font-style="italic">F</tspan><tspan dy="7" font-size="22.6">R</tspan><tspan dy="-7"> &lt; 50 pN</tspan></text>
<line x1="1148.5" y1="474" x2="1110.3" y2="503.8" stroke="#231815" stroke-width="2" stroke-dasharray="7.8 7.4"/>
<line x1="1045.7" y1="554.4" x2="992.5" y2="595.9" stroke="#231815" stroke-width="2" stroke-dasharray="7.8 7.4"/>
<line x1="1452.4" y1="474" x2="1492.3" y2="503.8" stroke="#231815" stroke-width="2" stroke-dasharray="7.8 7.4"/>
<line x1="1551.6" y1="548.3" x2="1615.2" y2="595.9" stroke="#231815" stroke-width="2" stroke-dasharray="7.8 7.4"/>
<clipPath id="clipc"><rect x="143.3" y="601" width="636" height="459"/></clipPath>
<g clip-path="url(#clipc)" stroke-width="1.9" stroke-linejoin="round">
<polygon points="143.3,596 148.5,602.4 151.5,612 154.7,627 157.5,652 159.9,673.5 163,667 166,661 168.5,676 171.2,691 174.5,699 178.4,706.4 184,700 190.8,705.4 197,699.2 204.2,712.6 210,719 216.5,725 222.5,730.5 229,736 235,732.6 241.3,735.3 247,729 251.6,741.5 255.5,750.5 259.8,759.4 266,756 272.2,753.2 278.4,754.8 284.5,767.2 290.3,759.4 293.5,769 296.9,780.6 303,779.2 309.3,778 312.5,765 315.5,754.8 322,749 328.8,756 329.5,770 325.8,784.7 333,779.5 340.2,774.4 346,777.5 346.4,758.6 353.6,758 359.1,751.8 362.5,759.5 366,766.8 372.1,766.2 376.2,771.3 378.9,792.4 383.9,792.4 385.5,771.3 390.7,764.7 396.8,773.4 403,792 409.2,790.9 415.4,777 421.5,783.5 427.8,790.3 433.5,786 439.1,781.6 447.3,777.5 453.9,783.7 459.3,771.5 462.5,780 466.5,790 471.6,791 478,782 484,774 491.2,782.8 501.5,777.7 509.8,777.3 516,773 522,776.7 528,773 533.5,769.5 540.7,772.5 547.9,778.7 553,774.6 561.3,781.8 566.4,791 572,779 577.8,767 584.5,776.5 591.2,786.3 597.3,773.2 603.5,767.8 609.7,762.9 615.9,763.3 627.2,767.8 635.5,770.5 640.6,775.2 647.8,771.9 655,771.5 661,775 667.4,778.7 678.7,775.6 685,779.5 691.1,783.5 696.5,779.5 702.4,776 710.7,780.2 717.5,784 724,788 728.2,786 735.4,787.6 746.7,784.3 753.5,789.2 760.1,794.2 766.3,791.1 772,795.5 777.6,800.4 779.3,801 779.3,1061 143.3,1061" fill="#F0CFB7" stroke="#CDBDB2"/>
<polygon points="143.3,721.9 148.5,738.4 154.7,754.8 160.9,752.8 164,761 167.1,769.3 173.3,774.4 176.5,783 179.5,791.9 186.7,806.4 193.9,812.5 198,811.5 204.2,806.4 210.4,808.8 216.5,806.8 224.8,812.5 231,814.5 237.1,816.7 242.3,824.9 251.6,821.8 261.9,820.4 268,823 274.2,825.9 280.4,829 290,828.2 300,829 310,827 320,827.5 335,828.2 350,830 358,827 365,828.5 372,826 380,826.5 390,828 400,824 407.5,830 416,828 425,827.5 432,824 440,826 450,823 457,820 464.4,818.5 476.8,817.3 488.1,821.4 501.5,820 510.8,816.8 518,825 528.3,826.7 541.7,829.2 547.9,826 562.3,827 577.8,829.2 585,824.7 592.2,827.1 598.4,826 608.7,828.8 616.9,826.7 625.2,830.2 635.5,826.7 645.8,825.5 656.1,831.3 666.4,824 671.5,826 678.7,822 684.9,821 691.1,817.3 698.3,825 702.4,825.5 709.6,820 724,815.8 735.4,814.4 740.5,817.9 753.9,814.8 765.3,815.8 771.5,818.5 777.6,815.8 779.3,815.5 779.3,1061 189.8,1061 189.8,1059 183.6,1055.6 171.2,1051.5 163,1044.3 156.8,1032 152,1019 148.5,1005 146,985 144.4,964 143.3,958" fill="#E6B08E" stroke="#C9A48F"/>
<polygon points="154.7,851.6 160.9,856.8 167.1,845.5 173.3,858.8 179.5,853.5 185.6,848.5 191.8,851.6 199,849.6 212.4,855.8 222,862 231,868.1 242.3,859.9 250.5,868.1 259.8,861.9 274.2,866.7 284,864.2 293.8,861.9 305.1,866.1 321.6,863.4 336.1,859.9 342.2,867.1 348.4,857.8 354.6,864 367,867.1 376.5,863.7 386.5,860.5 391.7,864 397.9,861.9 406.1,868.1 416.4,859.9 428.8,868.1 439.1,866.1 451.5,868.7 460.3,866.7 472.7,867.3 480.9,871.5 491.2,865.9 503.6,863.2 511.8,864.2 522,862.5 532.4,861.1 542.7,866.7 546.8,863.2 553,865.3 560.2,859.7 569.5,862.2 579.8,858.5 594.2,862.2 606.6,860.5 621,862.6 631.3,859.1 635.5,861.8 647.8,856.4 664.3,861.1 672.5,861.8 684.9,857.6 705.5,855 712.7,856 722,848.8 730.2,851.9 742.6,855 759.1,856.4 767.3,849.8 777.6,845.3 779.3,845 779.3,1058.7 777.6,1058.7 769.4,1053.5 759.1,1052.5 738.5,1053.5 717.9,1054.1 697.3,1052.1 676.7,1050.8 643.7,1049.4 635.5,1052.9 625.2,1047.9 614.8,1050 594.2,1049.4 573.6,1050.4 553,1052.5 532.4,1053.5 522.1,1049.4 507.7,1052.1 497.4,1047.3 487.1,1048.4 466.5,1050 450,1051.5 430,1052.5 397.9,1053.6 377,1052.8 356.7,1054.2 335,1053 315.5,1052.5 294.8,1053.6 274.2,1051.5 258,1050.5 245.4,1048.4 235.1,1044.3 222.7,1045.3 212.4,1041.2 204.2,1042.2 191.8,1038.5 185.6,1027.4 179.5,1029.9 173,1024 167.1,1017.5 162.5,1006 158.8,994.8 154.5,977 150.6,957.8 149,935 148.1,912.4 147.8,890 148.1,871.2 150.5,860" fill="#E0A077" stroke="#C4957A"/>
<polygon points="192.8,887.3 201.1,895.9 209,903 217.6,910.4 222.7,902.1 228.9,901.1 241.3,892.8 249.5,899 255.7,900.1 266,895.9 274.2,901.1 284.5,894.9 292.8,897 299,892.8 305.1,898 315,897.2 325.8,897 336.1,893.5 346,896 356.7,898 360.8,902.1 367,899 375.2,906.2 383.5,900.1 400,897.5 418.5,895.5 434,897.5 449.4,899 459.3,902.4 465.5,897.2 476,897.8 487.1,897.6 500,895.5 515.9,892.7 522.1,895.1 529.3,891.4 538.6,897.2 547.9,892.7 555.1,896.8 569.5,892.7 583.9,891 596,889.8 608.7,888.6 620,887 631.3,885.3 641.6,884.8 647.8,881.1 662.2,884.8 671.5,881.8 686.9,885.9 697.3,878.7 709.6,882.8 722,879.1 735.4,885.9 740.5,880.3 747.8,885.9 765.3,883.8 771.5,876.2 777.6,874.1 779.3,874 779.3,1033.9 777.6,1033.9 771.5,1037 759.1,1036 738.5,1035 717.9,1036.4 697.3,1035 674.6,1033.9 666.4,1029.4 656.1,1032.9 635.5,1035 621,1031.9 606.6,1030.8 584,1035 565.4,1036 542.7,1033.9 524.2,1036 511.8,1031.9 499.5,1033.5 483,1030.2 476.8,1035 462.4,1031.9 450,1035 435,1034 418.5,1037.1 400,1036.5 387.6,1036 372,1035.6 358.7,1035 344.3,1038.1 331,1035.5 319.6,1033 309,1035 299,1037.1 286.6,1034 274,1033.6 261.9,1033 249,1029.5 237.1,1025.8 222.7,1020.6 216.5,1023.7 209,1015.5 202.1,1007.2 191.8,992.8 185.6,999 182.5,988 179.5,977.3 172.2,978.4 170,964 168.1,949.5 169.4,937 171.2,924.8 174.5,916 178.4,906.7 186.7,906.2 189.8,896.5" fill="#DC9463" stroke="#C18966"/>
<polygon points="237.1,970.1 241,963 245.4,955.7 250.5,942 255.7,928.9 258.8,940 261.9,951.6 267,948.5 272.2,935.1 279,932.2 286.6,929.9 301,932 312,930 323.7,928.5 336.1,934.1 350.5,929.9 367,931 377,932.8 387.6,934.1 402,924.8 418.5,920.7 428.8,921.1 439.1,919.6 450,920.9 460.3,926 467.5,921 480.9,919.9 499.5,924 505.6,926 510.8,934.3 515.9,924.4 532.4,923 546.8,920.3 559.2,917.4 567.5,919.9 575.7,917.8 586,915.8 592.2,913.3 598.4,918.8 606.6,914.7 623.1,912.7 629.3,917.4 635,907.1 642.7,914.7 656.1,910.6 664.3,911.6 672.5,908.5 687,912.7 703.5,909.6 710.7,910.6 715.8,908.5 723,915.8 734.4,914.1 750.8,909.6 765.3,909.2 777.6,902.4 779.3,902 779.3,998.9 777.6,998.9 771.5,1005 765.3,1011.3 759.1,1011.3 738.5,1010.2 722,1013.3 709.6,1001 697.3,1010.2 691.1,1004.1 682.8,1008.2 666.4,1011.3 647.8,1010.2 635.5,1006.1 621,1012.3 606.6,1012.3 594.2,1010.2 584,1014.4 557.2,1008.2 536.5,1010.2 522.1,1007.1 511.8,1011.3 499.5,1012.9 480.9,1012.3 462.4,1015.4 450,1012.3 443.2,1009.3 432.9,1013.4 418.5,1014.4 395.8,1016.5 373.1,1018.5 360.8,1014.4 346.4,1014.4 323.7,1008.2 317.5,1013.4 309.3,1009.3 301,1010.3 286.6,1005.2 280.4,1008.2 272.2,1005.2 261.9,1011.3 257.5,1004 253.6,997 248.5,992.8 242.3,997 238.2,986.6" fill="#D98B56" stroke="#BF8158"/>
<polygon points="209.3,962.9 213.5,965 214.9,972.2 212.4,981.5 209.3,982.9 205.2,977.3 204.2,970.1 206.2,965" fill="#D6864B" stroke="#C27B49"/>
<polygon points="229.9,942.3 233,953.6 234.5,966 231,976.3 222.7,984.1 219.6,974.2 218.6,963.9 223.8,952.6" fill="#D6864B" stroke="#C27B49"/>
<polygon points="379.3,970.5 381,979.4 379.3,987.6 377.9,979.4" fill="#D6864B" stroke="#C27B49"/>
<polygon points="446.9,948.4 452.1,951.5 456.2,961.8 460.3,957.7 466.5,961.8 469.6,970.1 468.5,982.4 464.4,978.3 460.3,968 455.2,965.9 450,961.8 445.9,955.6" fill="#D6864B" stroke="#C27B49"/>
<polygon points="480.9,968 484,956.7 489.2,955.2 494.3,961.8 499.5,970.1 501.5,979.3 499,987.6 492.2,979.3 488.1,986.5 484,985.5 481.3,977.3" fill="#D6864B" stroke="#C27B49"/>
<polygon points="506.7,976.2 511.8,963.9 518,949.9 524.2,949.5 529.3,959.8 534.5,951.5 548.9,946.4 561.3,942.9 571.6,944.3 581.9,953.6 584.3,961.8 581.9,972.1 577.8,979.3 569.5,981.4 564.4,977.3 561.3,968 555.1,977.3 542.7,979.3 532.4,977.3 518,979.3 510.8,987.6 507.7,982.4" fill="#D6864B" stroke="#C27B49"/>
<polygon points="585,957.7 588.1,947.4 592.2,940.2 601.5,949.5 609.7,949.5 615.9,941.2 623.1,944.3 628.2,953.6 631.3,961.8 632.4,970.1 629.3,985.5 623.1,976.2 614.8,972.1 609.7,970.1 602.5,974.6 594.2,972.1 588.1,968" fill="#D6864B" stroke="#C27B49"/>
<polygon points="642,949 644.7,957.7 645.1,963.9 642,973.8 639.6,965.9 639.2,957.7" fill="#D6864B" stroke="#C27B49"/>
<polygon points="666.4,964.9 667.6,969.6 666.4,973.8 665.3,969.6" fill="#D6864B" stroke="#C27B49"/>
<polygon points="690.7,945.7 693.1,953.6 693.8,961.8 690.7,972.5 687.4,965.9 686.6,958.7 688.2,951.5" fill="#D6864B" stroke="#C27B49"/>
<polygon points="710,940.2 711.3,949.5 710.5,959.8 709,949.5" fill="#D6864B" stroke="#C27B49"/>
<polygon points="735.4,943.7 736.4,952.5 735.6,961.8 734.4,952.5" fill="#D6864B" stroke="#C27B49"/>
</g>
<rect x="143.3" y="601" width="636" height="459" fill="none" stroke="#231815" stroke-width="2"/>
<line x1="270.5" y1="1060" x2="270.5" y2="1049" stroke="#231815" stroke-width="2"/>
<line x1="397.7" y1="1060" x2="397.7" y2="1049" stroke="#231815" stroke-width="2"/>
<line x1="524.9" y1="1060" x2="524.9" y2="1049" stroke="#231815" stroke-width="2"/>
<line x1="652.1" y1="1060" x2="652.1" y2="1049" stroke="#231815" stroke-width="2"/>
<line x1="143.3" y1="945.2" x2="154.3" y2="945.2" stroke="#231815" stroke-width="2"/>
<line x1="143.3" y1="830.5" x2="154.3" y2="830.5" stroke="#231815" stroke-width="2"/>
<line x1="143.3" y1="715.8" x2="154.3" y2="715.8" stroke="#231815" stroke-width="2"/>
<text x="143.3" y="1112.2" font-size="34" text-anchor="middle" fill="#231815">1.68</text>
<text x="270.5" y="1112.2" font-size="34" text-anchor="middle" fill="#231815">2.08</text>
<text x="397.7" y="1112.2" font-size="34" text-anchor="middle" fill="#231815">2.48</text>
<text x="524.9" y="1112.2" font-size="34" text-anchor="middle" fill="#231815">2.88</text>
<text x="652.1" y="1112.2" font-size="34" text-anchor="middle" fill="#231815">3.28</text>
<text x="779.3" y="1112.2" font-size="34" text-anchor="middle" fill="#231815">3.68</text>
<text x="125.7" y="1070.8" font-size="37" text-anchor="end" fill="#231815">0</text>
<text x="125.7" y="958.1" font-size="37" text-anchor="end" fill="#231815">20</text>
<text x="125.7" y="844.4" font-size="37" text-anchor="end" fill="#231815">40</text>
<text x="125.7" y="731.1" font-size="37" text-anchor="end" fill="#231815">60</text>
<text x="125.7" y="615.9" font-size="37" text-anchor="end" fill="#231815">80</text>
<text x="460.8" y="1148" font-size="34" text-anchor="middle" fill="#231815">Time (s)</text>
<text transform="translate(45.3 831.2) rotate(-90)" font-size="37.8" text-anchor="middle" fill="#231815">Force (pN)</text>
<rect x="485" y="666" width="66" height="8.6" fill="#E5893F"/>
<text x="576" y="679.2" font-size="34.7" text-anchor="start" fill="#231815"><tspan font-style="italic">F</tspan><tspan dy="7" font-size="22.6">R</tspan><tspan dy="-7"> &gt; 50 pN</tspan></text>
<clipPath id="clipd"><rect x="986" y="601" width="636" height="459"/></clipPath>
<g clip-path="url(#clipd)" stroke-width="1.9" stroke-linejoin="round">
<polygon points="986,912.5 987.5,912.7 996.8,915.8 1004,909.6 1009.2,912.3 1014.3,915.8 1019,920.9 1023.6,925 1031.8,923 1041.1,921.3 1052.4,926.1 1061.7,928.3 1071,930.2 1079.2,933.7 1085.4,930.2 1091.6,932.4 1097.8,935.3 1106,931.8 1120.4,933.7 1134.8,935.3 1147.2,931.8 1157.5,932.2 1167.8,932.2 1173,929.2 1188.4,930.2 1197.7,933.7 1204.9,930.2 1217.3,931.2 1233.8,928.1 1248.2,929.2 1260.5,933.9 1272.9,929.6 1285.3,929.2 1295.6,933.7 1300.3,931.2 1314.7,929.2 1331.2,931.2 1341.5,930.2 1347.7,933.7 1358,928.7 1367.3,932.9 1372.4,931.2 1378.6,932.9 1384.8,928.7 1405.4,930.2 1434.2,929.6 1446.6,927.5 1465.1,929.2 1481.6,928.1 1496.1,929.2 1508.4,926.1 1527,928.7 1537.3,927.1 1545.5,928.1 1553.8,926.1 1566.1,928.7 1578.5,927.1 1595,928.1 1607.3,926.7 1619.7,926.7 1622,926.5 1622,1062 986,1062" fill="#CFCFD1" stroke="#BEBEC1"/>
<polygon points="987.5,980.7 991.6,969.3 998.8,964.2 1010.2,959 1016.4,964.2 1028.7,957.6 1040.1,959.2 1052.4,960.1 1066.8,957 1081.3,958.4 1097.8,959 1103.9,954.9 1118.4,957.2 1134.8,959 1153.4,954.9 1167.8,958 1184.3,955.9 1202.8,954.3 1219.3,952.8 1237.9,951.2 1258.5,952.8 1270.8,951 1283.2,949.8 1299.7,951.8 1310.6,949.8 1331.2,950.8 1347.7,951.8 1358,949.3 1378.6,951.8 1386.8,949.8 1405.4,950.2 1434.2,948.7 1446.6,947.3 1465.1,948.7 1479.6,947.3 1496.1,948.7 1510.5,945.6 1527,948.7 1541.4,947.3 1553.8,945.6 1564.1,948.7 1578.5,946.7 1595,947.3 1607.3,945.6 1619.7,946 1622,946 1622,1062 998.8,1062 998.8,1060.6 993.7,1052.8 990.6,1044.5 989,1030.1 988.5,1013.6 987.7,997.2" fill="#B5B5B8" stroke="#A6A6A9"/>
<polygon points="991.6,1021.9 992.7,1009.5 994.7,999.2 999.9,993 1007.1,988.9 1016.4,984.4 1025.6,980.7 1034.9,982.7 1046.2,979 1058.6,977.6 1073,976.5 1093.6,976.1 1106,972.4 1120.4,973.2 1134.8,973.5 1151.3,970.4 1159.6,973.5 1173,971.2 1186.4,969.3 1207,968.5 1227.6,967.9 1244.1,969.3 1254.4,965.2 1268.8,967.3 1279.1,964.6 1295.6,966.7 1310.6,965.2 1329.2,968.3 1347.7,965.8 1378.6,968.3 1393,965.2 1413.6,965.2 1434.2,963.2 1454.8,962.5 1475.5,964.6 1496.1,963.8 1516.7,965.2 1537.3,963.8 1557.9,965.2 1570.2,963.2 1578.5,965.8 1599.1,963.2 1611.5,962.1 1619.7,962.5 1622,962.5 1622,1062 1003,1062 1003,1060.6 997.8,1050.7 994.7,1042.5 992.7,1032.2" fill="#A3A3A6" stroke="#959598"/>
<polygon points="1006.7,1030.1 1007.9,1020.8 1010.2,1013.6 1014.3,1007.5 1019.5,1002.3 1029.8,998.8 1040.1,996.1 1052.4,993 1062.7,990.1 1073,987.9 1097.8,987.9 1114.2,985.2 1130.7,986 1147.2,986.4 1161.6,984.4 1176.1,982.7 1196.7,983.1 1211.1,981.7 1225.5,980.7 1244.1,981.7 1254.4,978.2 1268.8,980.3 1283.2,978.2 1299.7,978.8 1300.3,981.1 1310.6,979.6 1331.2,981.7 1362.1,979.6 1378.6,981.7 1401.3,980.3 1413.6,980.7 1438.4,977.6 1454.8,979 1469.3,978.6 1481.6,980.7 1496.1,979.6 1508.4,981.7 1533.1,978.6 1557.9,980.3 1570.2,979 1578.5,981.1 1599.1,978.2 1607.3,979.6 1619.7,978.2 1622,978.2 1622,1062 1031.8,1062 1031.8,1060.6 1021.5,1054.8 1015.3,1049.7 1011.2,1044.5 1008.3,1037.3" fill="#959598" stroke="#88888C"/>
<polygon points="1032.8,1030.1 1033.9,1025.6 1035.9,1021.9 1042.1,1017.3 1048.3,1013.6 1060.7,1009.5 1068.9,1011.6 1077.2,1005.8 1085.4,1007 1093.6,1002.3 1103.9,1001.1 1114.2,1000.2 1130.7,1000.7 1145.1,1000.9 1156.5,998.8 1167.8,997.2 1182.2,996.9 1196.7,996.7 1213.1,995.1 1225.5,996.1 1229.6,993 1244.1,995.5 1258.5,993 1279.1,995.1 1299.7,994.3 1314.7,996.1 1341.5,997.2 1351.8,995.1 1364.2,993 1378.6,996.7 1393,997.2 1402.3,993.4 1413.6,995.5 1434.2,996.1 1461,994.7 1475.5,996.1 1500.2,996.1 1508.4,1000.2 1514.6,996.7 1533.1,995.1 1549.6,997.2 1564.1,994.7 1578.5,996.7 1592.9,994.1 1607.3,997.2 1615.6,994.7 1619.7,995.5 1622,995.5 1622,1062 1352,1062 1335,1059 1320.9,1058 1310,1054.8 1285.3,1055.5 1258.5,1055.9 1227.6,1053.8 1200.8,1054.8 1176.1,1055.9 1151.3,1053.8 1134.8,1055.9 1114.2,1054.8 1106,1050.7 1097.8,1054.8 1085.4,1054.4 1073,1053.8 1062.7,1052 1052.4,1049.7 1043.2,1047 1034.9,1043.5 1033.3,1036.7" fill="#85858A" stroke="#7A7A7E"/>
<polygon points="1137,1026.4 1135.9,1028.6 1133.7,1028.6 1132.5,1026.4 1133.7,1024.2 1135.9,1024.2" fill="#77777B" stroke="#6C6C70"/>
<polygon points="1149.1,1029.7 1148.3,1034 1146.8,1034 1146.1,1029.7 1146.8,1025.4 1148.3,1025.4" fill="#77777B" stroke="#6C6C70"/>
<polygon points="1161.6,1026 1160.6,1027.2 1159.6,1026 1160.6,1024.8" fill="#77777B" stroke="#6C6C70"/>
<polygon points="1171.9,1025 1178.1,1021.9 1181.6,1025 1180.6,1032.2 1177.1,1033.2 1174,1029.1" fill="#77777B" stroke="#6C6C70"/>
<polygon points="1199,1026.4 1198.1,1027.8 1196.6,1027.3 1196.6,1025.5 1198.1,1025" fill="#77777B" stroke="#6C6C70"/>
<polygon points="1207.4,1021.9 1211.1,1016.1 1216.2,1014 1223.5,1017.3 1227.6,1023.9 1225.5,1031.1 1220.4,1033.2 1213.1,1031.1 1208.6,1027.6" fill="#77777B" stroke="#6C6C70"/>
<polygon points="1231.3,1025 1234.8,1021.9 1239.9,1023.5 1245.1,1018.8 1250.2,1021.9 1250.7,1030.1 1247.1,1034.7 1239.9,1035.3 1234.8,1033.2 1232.1,1029.1" fill="#77777B" stroke="#6C6C70"/>
<polygon points="1260.5,1015.3 1263,1021.9 1262.6,1027 1260.5,1030.5 1258.5,1026 1258.5,1019.8" fill="#77777B" stroke="#6C6C70"/>
<polygon points="1273.5,1026 1272.5,1027.5 1271.5,1026 1272.5,1024.5" fill="#77777B" stroke="#6C6C70"/>
<polygon points="1278.7,1023.9 1283.8,1026 1290,1019.8 1296.2,1017.3 1304.4,1018.8 1309.6,1025 1310.2,1032.2 1306.5,1037.3 1298.2,1038.8 1290,1036.7 1284.8,1032.2 1279.7,1032.2" fill="#77777B" stroke="#6C6C70"/>
<polygon points="1312.7,1027 1320.9,1018.8 1328.1,1013.2 1334.3,1018.8 1346.7,1013.2 1360.1,1017.8 1367.3,1014.7 1374.5,1016.7 1378.6,1012.6 1386.8,1018.8 1398.2,1022.9 1402.3,1016.7 1408.5,1020.8 1430.1,1018.2 1442.5,1023.9 1454.8,1026 1466.2,1017.8 1471.3,1021.9 1477.5,1019.4 1483.7,1026 1487.8,1021.9 1494,1018.8 1500.2,1020.8 1504.3,1026 1512.5,1031.1 1514.6,1034.2 1513.6,1039.4 1509.5,1043.5 1504.3,1034.2 1498.1,1042.5 1485.8,1037.3 1471.3,1038.4 1461,1033.2 1453.8,1038.4 1448.7,1034.2 1438.4,1037.3 1430.1,1043.5 1423.9,1040.4 1415.7,1043.5 1401.3,1038.4 1397.2,1041.5 1386.8,1038.4 1380.7,1043.5 1358,1041.5 1334.3,1043.5 1320.9,1036.3" fill="#77777B" stroke="#6C6C70"/>
<polygon points="1517.7,1032.2 1520.8,1025 1533.1,1025 1545.5,1023.9 1551.7,1027 1553.8,1032.2 1550.7,1039.4 1546.5,1045.6 1542.4,1040.4 1537.3,1035.3 1527,1042.5 1518.7,1036.3" fill="#77777B" stroke="#6C6C70"/>
<polygon points="1553.8,1030.1 1556.8,1023.9 1559.9,1019.8 1568.2,1023.9 1576.4,1018.8 1586.7,1022.9 1597,1026 1600.1,1032.2 1599.1,1037.3 1595,1041.5 1578.5,1045.6 1568.2,1042.5 1557.9,1039.4 1554.8,1035.3" fill="#77777B" stroke="#6C6C70"/>
<polygon points="1609,1023.5 1611.9,1029.1 1613.1,1034.2 1609.4,1044.1 1606.3,1037.3 1605.3,1031.1 1606.9,1026.4" fill="#77777B" stroke="#6C6C70"/>
<polygon points="1621.8,1023.9 1619.3,1028.5 1618.9,1033.2 1621.8,1037.3" fill="#77777B" stroke="#6C6C70"/>
</g>
<rect x="986" y="601" width="636" height="459" fill="none" stroke="#231815" stroke-width="2"/>
<line x1="1113.2" y1="1060" x2="1113.2" y2="1049" stroke="#231815" stroke-width="2"/>
<line x1="1240.4" y1="1060" x2="1240.4" y2="1049" stroke="#231815" stroke-width="2"/>
<line x1="1367.6" y1="1060" x2="1367.6" y2="1049" stroke="#231815" stroke-width="2"/>
<line x1="1494.8" y1="1060" x2="1494.8" y2="1049" stroke="#231815" stroke-width="2"/>
<line x1="986" y1="945.2" x2="997" y2="945.2" stroke="#231815" stroke-width="2"/>
<line x1="986" y1="830.5" x2="997" y2="830.5" stroke="#231815" stroke-width="2"/>
<line x1="986" y1="715.8" x2="997" y2="715.8" stroke="#231815" stroke-width="2"/>
<text x="986" y="1112.2" font-size="34" text-anchor="middle" fill="#231815">1.68</text>
<text x="1113.2" y="1112.2" font-size="34" text-anchor="middle" fill="#231815">2.08</text>
<text x="1240.4" y="1112.2" font-size="34" text-anchor="middle" fill="#231815">2.48</text>
<text x="1367.6" y="1112.2" font-size="34" text-anchor="middle" fill="#231815">2.88</text>
<text x="1494.8" y="1112.2" font-size="34" text-anchor="middle" fill="#231815">3.28</text>
<text x="1622" y="1112.2" font-size="34" text-anchor="middle" fill="#231815">3.68</text>
<text x="968.4" y="1070.8" font-size="37" text-anchor="end" fill="#231815">0</text>
<text x="968.4" y="958.1" font-size="37" text-anchor="end" fill="#231815">20</text>
<text x="968.4" y="844.4" font-size="37" text-anchor="end" fill="#231815">40</text>
<text x="968.4" y="731.1" font-size="37" text-anchor="end" fill="#231815">60</text>
<text x="968.4" y="615.9" font-size="37" text-anchor="end" fill="#231815">80</text>
<text x="1303.5" y="1148" font-size="34" text-anchor="middle" fill="#231815">Time (s)</text>
<text transform="translate(888 831.2) rotate(-90)" font-size="37.8" text-anchor="middle" fill="#231815">Force (pN)</text>
<rect x="1328" y="666" width="66" height="8.6" fill="#98999C"/>
<text x="1419" y="679.2" font-size="34.7" text-anchor="start" fill="#231815"><tspan font-style="italic">F</tspan><tspan dy="7" font-size="22.6">R</tspan><tspan dy="-7"> &lt; 50 pN</tspan></text>
<text transform="translate(-3.2 53) scale(1.08 1)" font-size="73.5" fill="#231815" stroke="#231815" stroke-width="0.7">a</text>
<text transform="translate(839 53) scale(1.0 1)" font-size="75" fill="#231815" stroke="#231815" stroke-width="0.3">b</text>
<text transform="translate(-2 638) scale(1.04 1)" font-size="70" fill="#231815" stroke="#231815" stroke-width="0.7">c</text>
<text transform="translate(838.5 639) scale(1.0 1)" font-size="75" fill="#231815" stroke="#231815" stroke-width="0.5">d</text>
<text transform="translate(-3.5 1226.5) scale(1.0 1)" font-size="74" fill="#231815" stroke="#231815" stroke-width="0.6">e</text>
<text transform="translate(847.5 1226) scale(1.0 1)" font-size="73" fill="#231815">f</text>
<defs>
<filter id="b1" x="-80%" y="-80%" width="260%" height="260%" color-interpolation-filters="sRGB"><feGaussianBlur stdDeviation="1.2"/></filter>
<filter id="b2" x="-80%" y="-80%" width="260%" height="260%" color-interpolation-filters="sRGB"><feGaussianBlur stdDeviation="2.0"/></filter>
<filter id="b3" x="-80%" y="-80%" width="260%" height="260%" color-interpolation-filters="sRGB"><feGaussianBlur stdDeviation="3.0"/></filter>
<filter id="b35" x="-80%" y="-80%" width="260%" height="260%" color-interpolation-filters="sRGB"><feGaussianBlur stdDeviation="3.6"/></filter>
<filter id="b4" x="-80%" y="-80%" width="260%" height="260%" color-interpolation-filters="sRGB"><feGaussianBlur stdDeviation="4.0"/></filter>
<filter id="b5" x="-80%" y="-80%" width="260%" height="260%" color-interpolation-filters="sRGB"><feGaussianBlur stdDeviation="5.0"/></filter>
<filter id="b6" x="-80%" y="-80%" width="260%" height="260%" color-interpolation-filters="sRGB"><feGaussianBlur stdDeviation="6.5"/></filter>
<filter id="bs" x="-20%" y="-120%" width="140%" height="340%" color-interpolation-filters="sRGB"><feGaussianBlur stdDeviation="5 2.3"/></filter>
<filter id="cm0" filterUnits="userSpaceOnUse" x="140.3" y="1185.6" width="262.9" height="262.4" color-interpolation-filters="sRGB">
<feTurbulence type="fractalNoise" baseFrequency="0.035 0.085" numOctaves="2" seed="3" result="t"/>
<feColorMatrix in="t" type="matrix" values="0.2 0 0 0 -0.082  0.2 0 0 0 -0.082  0.2 0 0 0 -0.082  0 0 0 0 1" result="n"/>
<feGaussianBlur in="SourceGraphic" stdDeviation="3.1" result="sb"/>
<feComposite in="sb" in2="n" operator="arithmetic" k1="0" k2="1" k3="1" k4="0" result="s"/>
<feComponentTransfer in="s"><feFuncR type="table" tableValues="0.043 0.076 0.110 0.161 0.218 0.269 0.318 0.367 0.416 0.459 0.503 0.545 0.586 0.633 0.682 0.736 0.792 0.827 0.863 0.887 0.898 0.909 0.916 0.921 0.925 0.925 0.925 0.933 0.943 0.957 0.971 0.985 1.000"/><feFuncG type="table" tableValues="0.016 0.021 0.026 0.027 0.027 0.042 0.060 0.081 0.102 0.132 0.161 0.204 0.251 0.304 0.359 0.411 0.463 0.495 0.527 0.563 0.604 0.645 0.688 0.732 0.776 0.810 0.843 0.870 0.894 0.917 0.940 0.968 1.000"/><feFuncB type="table" tableValues="0.016 0.023 0.030 0.033 0.035 0.054 0.076 0.101 0.125 0.145 0.164 0.173 0.179 0.182 0.184 0.186 0.188 0.197 0.207 0.229 0.269 0.308 0.350 0.395 0.439 0.485 0.530 0.592 0.660 0.743 0.828 0.914 1.000"/></feComponentTransfer>
</filter>
<clipPath id="cpe1"><rect x="142.3" y="1187.6" width="258.9" height="258.4"/></clipPath>
<filter id="cm1" filterUnits="userSpaceOnUse" x="406.1" y="1185.6" width="263.7" height="262.4" color-interpolation-filters="sRGB">
<feTurbulence type="fractalNoise" baseFrequency="0.035 0.085" numOctaves="2" seed="8" result="t"/>
<feColorMatrix in="t" type="matrix" values="0.2 0 0 0 -0.082  0.2 0 0 0 -0.082  0.2 0 0 0 -0.082  0 0 0 0 1" result="n"/>
<feGaussianBlur in="SourceGraphic" stdDeviation="3.1" result="sb"/>
<feComposite in="sb" in2="n" operator="arithmetic" k1="0" k2="1" k3="1" k4="0" result="s"/>
<feComponentTransfer in="s"><feFuncR type="table" tableValues="0.043 0.076 0.110 0.161 0.218 0.269 0.318 0.367 0.416 0.459 0.503 0.545 0.586 0.633 0.682 0.736 0.792 0.827 0.863 0.887 0.898 0.909 0.916 0.921 0.925 0.925 0.925 0.933 0.943 0.957 0.971 0.985 1.000"/><feFuncG type="table" tableValues="0.016 0.021 0.026 0.027 0.027 0.042 0.060 0.081 0.102 0.132 0.161 0.204 0.251 0.304 0.359 0.411 0.463 0.495 0.527 0.563 0.604 0.645 0.688 0.732 0.776 0.810 0.843 0.870 0.894 0.917 0.940 0.968 1.000"/><feFuncB type="table" tableValues="0.016 0.023 0.030 0.033 0.035 0.054 0.076 0.101 0.125 0.145 0.164 0.173 0.179 0.182 0.184 0.186 0.188 0.197 0.207 0.229 0.269 0.308 0.350 0.395 0.439 0.485 0.530 0.592 0.660 0.743 0.828 0.914 1.000"/></feComponentTransfer>
</filter>
<clipPath id="cpe2"><rect x="408.1" y="1187.6" width="259.7" height="258.4"/></clipPath>
<filter id="cm2" filterUnits="userSpaceOnUse" x="140.3" y="1449.2" width="262.9" height="261.4" color-interpolation-filters="sRGB">
<feTurbulence type="fractalNoise" baseFrequency="0.035 0.085" numOctaves="2" seed="14" result="t"/>
<feColorMatrix in="t" type="matrix" values="0.2 0 0 0 -0.082  0.2 0 0 0 -0.082  0.2 0 0 0 -0.082  0 0 0 0 1" result="n"/>
<feGaussianBlur in="SourceGraphic" stdDeviation="3.1" result="sb"/>
<feComposite in="sb" in2="n" operator="arithmetic" k1="0" k2="1" k3="1" k4="0" result="s"/>
<feComponentTransfer in="s"><feFuncR type="table" tableValues="0.043 0.076 0.110 0.161 0.218 0.269 0.318 0.367 0.416 0.459 0.503 0.545 0.586 0.633 0.682 0.736 0.792 0.827 0.863 0.887 0.898 0.909 0.916 0.921 0.925 0.925 0.925 0.933 0.943 0.957 0.971 0.985 1.000"/><feFuncG type="table" tableValues="0.016 0.021 0.026 0.027 0.027 0.042 0.060 0.081 0.102 0.132 0.161 0.204 0.251 0.304 0.359 0.411 0.463 0.495 0.527 0.563 0.604 0.645 0.688 0.732 0.776 0.810 0.843 0.870 0.894 0.917 0.940 0.968 1.000"/><feFuncB type="table" tableValues="0.016 0.023 0.030 0.033 0.035 0.054 0.076 0.101 0.125 0.145 0.164 0.173 0.179 0.182 0.184 0.186 0.188 0.197 0.207 0.229 0.269 0.308 0.350 0.395 0.439 0.485 0.530 0.592 0.660 0.743 0.828 0.914 1.000"/></feComponentTransfer>
</filter>
<clipPath id="cpe3"><rect x="142.3" y="1451.2" width="258.9" height="257.4"/></clipPath>
<filter id="cm3" filterUnits="userSpaceOnUse" x="406.1" y="1449.2" width="263.7" height="261.4" color-interpolation-filters="sRGB">
<feTurbulence type="fractalNoise" baseFrequency="0.035 0.085" numOctaves="2" seed="21" result="t"/>
<feColorMatrix in="t" type="matrix" values="0.2 0 0 0 -0.082  0.2 0 0 0 -0.082  0.2 0 0 0 -0.082  0 0 0 0 1" result="n"/>
<feGaussianBlur in="SourceGraphic" stdDeviation="3.1" result="sb"/>
<feComposite in="sb" in2="n" operator="arithmetic" k1="0" k2="1" k3="1" k4="0" result="s"/>
<feComponentTransfer in="s"><feFuncR type="table" tableValues="0.043 0.076 0.110 0.161 0.218 0.269 0.318 0.367 0.416 0.459 0.503 0.545 0.586 0.633 0.682 0.736 0.792 0.827 0.863 0.887 0.898 0.909 0.916 0.921 0.925 0.925 0.925 0.933 0.943 0.957 0.971 0.985 1.000"/><feFuncG type="table" tableValues="0.016 0.021 0.026 0.027 0.027 0.042 0.060 0.081 0.102 0.132 0.161 0.204 0.251 0.304 0.359 0.411 0.463 0.495 0.527 0.563 0.604 0.645 0.688 0.732 0.776 0.810 0.843 0.870 0.894 0.917 0.940 0.968 1.000"/><feFuncB type="table" tableValues="0.016 0.023 0.030 0.033 0.035 0.054 0.076 0.101 0.125 0.145 0.164 0.173 0.179 0.182 0.184 0.186 0.188 0.197 0.207 0.229 0.269 0.308 0.350 0.395 0.439 0.485 0.530 0.592 0.660 0.743 0.828 0.914 1.000"/></feComponentTransfer>
</filter>
<clipPath id="cpe4"><rect x="408.1" y="1451.2" width="259.7" height="257.4"/></clipPath>
<filter id="cm4" filterUnits="userSpaceOnUse" x="984" y="1185.6" width="263" height="262.4" color-interpolation-filters="sRGB">
<feTurbulence type="fractalNoise" baseFrequency="0.055 0.075" numOctaves="2" seed="27" result="t"/>
<feColorMatrix in="t" type="matrix" values="0.2 0 0 0 -0.082  0.2 0 0 0 -0.082  0.2 0 0 0 -0.082  0 0 0 0 1" result="n"/>
<feGaussianBlur in="SourceGraphic" stdDeviation="3.1" result="sb"/>
<feComposite in="sb" in2="n" operator="arithmetic" k1="0" k2="1" k3="1" k4="0" result="s"/>
<feComponentTransfer in="s"><feFuncR type="table" tableValues="0.043 0.076 0.110 0.161 0.218 0.269 0.318 0.367 0.416 0.459 0.503 0.545 0.586 0.633 0.682 0.736 0.792 0.827 0.863 0.887 0.898 0.909 0.916 0.921 0.925 0.925 0.925 0.933 0.943 0.957 0.971 0.985 1.000"/><feFuncG type="table" tableValues="0.016 0.021 0.026 0.027 0.027 0.042 0.060 0.081 0.102 0.132 0.161 0.204 0.251 0.304 0.359 0.411 0.463 0.495 0.527 0.563 0.604 0.645 0.688 0.732 0.776 0.810 0.843 0.870 0.894 0.917 0.940 0.968 1.000"/><feFuncB type="table" tableValues="0.016 0.023 0.030 0.033 0.035 0.054 0.076 0.101 0.125 0.145 0.164 0.173 0.179 0.182 0.184 0.186 0.188 0.197 0.207 0.229 0.269 0.308 0.350 0.395 0.439 0.485 0.530 0.592 0.660 0.743 0.828 0.914 1.000"/></feComponentTransfer>
</filter>
<clipPath id="cpf1"><rect x="986" y="1187.6" width="259" height="258.4"/></clipPath>
<filter id="cm5" filterUnits="userSpaceOnUse" x="1250.4" y="1185.6" width="263" height="262.4" color-interpolation-filters="sRGB">
<feTurbulence type="fractalNoise" baseFrequency="0.055 0.075" numOctaves="2" seed="33" result="t"/>
<feColorMatrix in="t" type="matrix" values="0.2 0 0 0 -0.082  0.2 0 0 0 -0.082  0.2 0 0 0 -0.082  0 0 0 0 1" result="n"/>
<feGaussianBlur in="SourceGraphic" stdDeviation="3.1" result="sb"/>
<feComposite in="sb" in2="n" operator="arithmetic" k1="0" k2="1" k3="1" k4="0" result="s"/>
<feComponentTransfer in="s"><feFuncR type="table" tableValues="0.043 0.076 0.110 0.161 0.218 0.269 0.318 0.367 0.416 0.459 0.503 0.545 0.586 0.633 0.682 0.736 0.792 0.827 0.863 0.887 0.898 0.909 0.916 0.921 0.925 0.925 0.925 0.933 0.943 0.957 0.971 0.985 1.000"/><feFuncG type="table" tableValues="0.016 0.021 0.026 0.027 0.027 0.042 0.060 0.081 0.102 0.132 0.161 0.204 0.251 0.304 0.359 0.411 0.463 0.495 0.527 0.563 0.604 0.645 0.688 0.732 0.776 0.810 0.843 0.870 0.894 0.917 0.940 0.968 1.000"/><feFuncB type="table" tableValues="0.016 0.023 0.030 0.033 0.035 0.054 0.076 0.101 0.125 0.145 0.164 0.173 0.179 0.182 0.184 0.186 0.188 0.197 0.207 0.229 0.269 0.308 0.350 0.395 0.439 0.485 0.530 0.592 0.660 0.743 0.828 0.914 1.000"/></feComponentTransfer>
</filter>
<clipPath id="cpf2"><rect x="1252.4" y="1187.6" width="259" height="258.4"/></clipPath>
<filter id="cm6" filterUnits="userSpaceOnUse" x="984" y="1449.2" width="263" height="261.4" color-interpolation-filters="sRGB">
<feTurbulence type="fractalNoise" baseFrequency="0.055 0.075" numOctaves="2" seed="41" result="t"/>
<feColorMatrix in="t" type="matrix" values="0.2 0 0 0 -0.082  0.2 0 0 0 -0.082  0.2 0 0 0 -0.082  0 0 0 0 1" result="n"/>
<feGaussianBlur in="SourceGraphic" stdDeviation="3.1" result="sb"/>
<feComposite in="sb" in2="n" operator="arithmetic" k1="0" k2="1" k3="1" k4="0" result="s"/>
<feComponentTransfer in="s"><feFuncR type="table" tableValues="0.043 0.076 0.110 0.161 0.218 0.269 0.318 0.367 0.416 0.459 0.503 0.545 0.586 0.633 0.682 0.736 0.792 0.827 0.863 0.887 0.898 0.909 0.916 0.921 0.925 0.925 0.925 0.933 0.943 0.957 0.971 0.985 1.000"/><feFuncG type="table" tableValues="0.016 0.021 0.026 0.027 0.027 0.042 0.060 0.081 0.102 0.132 0.161 0.204 0.251 0.304 0.359 0.411 0.463 0.495 0.527 0.563 0.604 0.645 0.688 0.732 0.776 0.810 0.843 0.870 0.894 0.917 0.940 0.968 1.000"/><feFuncB type="table" tableValues="0.016 0.023 0.030 0.033 0.035 0.054 0.076 0.101 0.125 0.145 0.164 0.173 0.179 0.182 0.184 0.186 0.188 0.197 0.207 0.229 0.269 0.308 0.350 0.395 0.439 0.485 0.530 0.592 0.660 0.743 0.828 0.914 1.000"/></feComponentTransfer>
</filter>
<clipPath id="cpf3"><rect x="986" y="1451.2" width="259" height="257.4"/></clipPath>
<filter id="cm7" filterUnits="userSpaceOnUse" x="1250.4" y="1449.2" width="263" height="261.4" color-interpolation-filters="sRGB">
<feTurbulence type="fractalNoise" baseFrequency="0.055 0.075" numOctaves="2" seed="52" result="t"/>
<feColorMatrix in="t" type="matrix" values="0.2 0 0 0 -0.082  0.2 0 0 0 -0.082  0.2 0 0 0 -0.082  0 0 0 0 1" result="n"/>
<feGaussianBlur in="SourceGraphic" stdDeviation="3.1" result="sb"/>
<feComposite in="sb" in2="n" operator="arithmetic" k1="0" k2="1" k3="1" k4="0" result="s"/>
<feComponentTransfer in="s"><feFuncR type="table" tableValues="0.043 0.076 0.110 0.161 0.218 0.269 0.318 0.367 0.416 0.459 0.503 0.545 0.586 0.633 0.682 0.736 0.792 0.827 0.863 0.887 0.898 0.909 0.916 0.921 0.925 0.925 0.925 0.933 0.943 0.957 0.971 0.985 1.000"/><feFuncG type="table" tableValues="0.016 0.021 0.026 0.027 0.027 0.042 0.060 0.081 0.102 0.132 0.161 0.204 0.251 0.304 0.359 0.411 0.463 0.495 0.527 0.563 0.604 0.645 0.688 0.732 0.776 0.810 0.843 0.870 0.894 0.917 0.940 0.968 1.000"/><feFuncB type="table" tableValues="0.016 0.023 0.030 0.033 0.035 0.054 0.076 0.101 0.125 0.145 0.164 0.173 0.179 0.182 0.184 0.186 0.188 0.197 0.207 0.229 0.269 0.308 0.350 0.395 0.439 0.485 0.530 0.592 0.660 0.743 0.828 0.914 1.000"/></feComponentTransfer>
</filter>
<clipPath id="cpf4"><rect x="1252.4" y="1451.2" width="259" height="257.4"/></clipPath>
<linearGradient id="cbar" x1="0" y1="0" x2="0" y2="1">
<stop offset="0" stop-color="#ffffff"/>
<stop offset="0.05" stop-color="#f9f2dc"/>
<stop offset="0.12" stop-color="#f1e5ab"/>
<stop offset="0.18" stop-color="#ecd98a"/>
<stop offset="0.25" stop-color="#ecc670"/>
<stop offset="0.33" stop-color="#e9a953"/>
<stop offset="0.42" stop-color="#e18b36"/>
<stop offset="0.50" stop-color="#ca7630"/>
<stop offset="0.55" stop-color="#b3612f"/>
<stop offset="0.62" stop-color="#97422e"/>
<stop offset="0.68" stop-color="#832b2b"/>
<stop offset="0.75" stop-color="#6a1a20"/>
<stop offset="0.82" stop-color="#4e0e12"/>
<stop offset="0.87" stop-color="#3a0709"/>
<stop offset="0.93" stop-color="#1e0708"/>
<stop offset="1" stop-color="#0b0404"/>
</linearGradient>
</defs>
<g clip-path="url(#cpe1)"><g filter="url(#cm0)">
<rect x="137.3" y="1182.6" width="268.9" height="268.4" fill="#000"/>
<ellipse cx="257.2" cy="1296.3" rx="23" ry="19" fill="#2b2b2b" filter="url(#b6)" transform="rotate(20 257.2 1296.3)"/>
<ellipse cx="281.7" cy="1313.5" rx="23.5" ry="22" fill="#2b2b2b" filter="url(#b6)"/>
<ellipse cx="267" cy="1343" rx="27" ry="20.5" fill="#2b2b2b" filter="url(#b6)" transform="rotate(-15 267 1343)"/>
<ellipse cx="268" cy="1322" rx="27" ry="32" fill="#2b2b2b" filter="url(#b6)"/>
<ellipse cx="268" cy="1362" rx="20" ry="17" fill="#2b2b2b" filter="url(#b6)"/>
<ellipse cx="257.2" cy="1296.3" rx="18" ry="14" fill="#4c4c4c" filter="url(#b5)" transform="rotate(20 257.2 1296.3)"/>
<ellipse cx="281.7" cy="1313.5" rx="18.5" ry="17" fill="#4c4c4c" filter="url(#b5)"/>
<ellipse cx="267" cy="1343" rx="22" ry="15.5" fill="#4c4c4c" filter="url(#b5)" transform="rotate(-15 267 1343)"/>
<ellipse cx="268" cy="1322" rx="22" ry="27" fill="#4c4c4c" filter="url(#b5)"/>
<ellipse cx="268" cy="1362" rx="15" ry="12" fill="#3d3d3d" filter="url(#b5)"/>
<ellipse cx="268" cy="1322" rx="17" ry="22" fill="#7a7a7a" filter="url(#b4)"/>
<ellipse cx="268" cy="1362" rx="10" ry="7" fill="#3d3d3d" filter="url(#b4)"/>
<ellipse cx="257.2" cy="1296.3" rx="16" ry="12" fill="#787878" filter="url(#b4)" transform="rotate(20 257.2 1296.3)"/>
<ellipse cx="281.7" cy="1313.5" rx="16.5" ry="15" fill="#787878" filter="url(#b4)"/>
<ellipse cx="267" cy="1343" rx="20" ry="13.5" fill="#787878" filter="url(#b4)" transform="rotate(-15 267 1343)"/>
<ellipse cx="257.2" cy="1296.3" rx="8.6" ry="5.9" fill="#b0b0b0" filter="url(#b35)" transform="rotate(20 257.2 1296.3)"/>
<ellipse cx="281.7" cy="1313.5" rx="8.9" ry="7.9" fill="#b5b5b5" filter="url(#b35)"/>
<ellipse cx="267" cy="1343" rx="11.2" ry="6.9" fill="#ababab" filter="url(#b35)" transform="rotate(-15 267 1343)"/>
<rect x="178" y="1287" width="44" height="6" rx="2" fill="#1a1a1a" filter="url(#bs)"/>
<rect x="312" y="1217" width="36" height="6" rx="2" fill="#171717" filter="url(#bs)"/>
</g></g>
<g clip-path="url(#cpe2)"><g filter="url(#cm1)">
<rect x="403.1" y="1182.6" width="269.7" height="268.4" fill="#000"/>
<ellipse cx="528.4" cy="1281.2" rx="27" ry="20" fill="#2b2b2b" filter="url(#b6)" transform="rotate(-8 528.4 1281.2)"/>
<ellipse cx="557.9" cy="1293.5" rx="25.5" ry="20.5" fill="#2b2b2b" filter="url(#b6)" transform="rotate(20 557.9 1293.5)"/>
<ellipse cx="541.9" cy="1326.6" rx="25" ry="27" fill="#2b2b2b" filter="url(#b6)"/>
<ellipse cx="549" cy="1331" rx="15" ry="15" fill="#2b2b2b" filter="url(#b6)"/>
<ellipse cx="550" cy="1310" rx="30" ry="30" fill="#2b2b2b" filter="url(#b6)"/>
<ellipse cx="545" cy="1340" rx="32" ry="25" fill="#2b2b2b" filter="url(#b6)"/>
<ellipse cx="528.4" cy="1281.2" rx="22" ry="15" fill="#4c4c4c" filter="url(#b5)" transform="rotate(-8 528.4 1281.2)"/>
<ellipse cx="557.9" cy="1293.5" rx="20.5" ry="15.5" fill="#4c4c4c" filter="url(#b5)" transform="rotate(20 557.9 1293.5)"/>
<ellipse cx="541.9" cy="1326.6" rx="20" ry="22" fill="#4c4c4c" filter="url(#b5)"/>
<ellipse cx="549" cy="1331" rx="10" ry="10" fill="#4c4c4c" filter="url(#b5)"/>
<ellipse cx="550" cy="1310" rx="25" ry="25" fill="#4c4c4c" filter="url(#b5)"/>
<ellipse cx="545" cy="1340" rx="27" ry="20" fill="#404040" filter="url(#b5)"/>
<ellipse cx="550" cy="1310" rx="20" ry="20" fill="#616161" filter="url(#b4)"/>
<ellipse cx="545" cy="1340" rx="22" ry="15" fill="#404040" filter="url(#b4)"/>
<ellipse cx="528.4" cy="1281.2" rx="20" ry="13" fill="#787878" filter="url(#b4)" transform="rotate(-8 528.4 1281.2)"/>
<ellipse cx="557.9" cy="1293.5" rx="18.5" ry="13.5" fill="#787878" filter="url(#b4)" transform="rotate(20 557.9 1293.5)"/>
<ellipse cx="541.9" cy="1326.6" rx="18" ry="20" fill="#787878" filter="url(#b4)"/>
<ellipse cx="549" cy="1331" rx="8" ry="8" fill="#787878" filter="url(#b4)"/>
<ellipse cx="528.4" cy="1281.2" rx="11.2" ry="6.6" fill="#a8a8a8" filter="url(#b35)" transform="rotate(-8 528.4 1281.2)"/>
<ellipse cx="557.9" cy="1293.5" rx="10.2" ry="6.9" fill="#a8a8a8" filter="url(#b35)" transform="rotate(20 557.9 1293.5)"/>
<ellipse cx="541.9" cy="1326.6" rx="9.9" ry="11.2" fill="#a1a1a1" filter="url(#b35)"/>
<ellipse cx="549" cy="1331" rx="3.3" ry="3.3" fill="#adadad" filter="url(#b35)"/>
<rect x="620" y="1318" width="40" height="6" rx="2" fill="#1f1f1f" filter="url(#bs)"/>
<rect x="445" y="1222" width="50" height="6" rx="2" fill="#171717" filter="url(#bs)"/>
</g></g>
<g clip-path="url(#cpe3)"><g filter="url(#cm2)">
<rect x="137.3" y="1446.2" width="268.9" height="267.4" fill="#000"/>
<ellipse cx="246" cy="1542.4" rx="23.5" ry="17.5" fill="#2b2b2b" filter="url(#b6)" transform="rotate(10 246 1542.4)"/>
<ellipse cx="270.5" cy="1558.4" rx="26" ry="18.5" fill="#2b2b2b" filter="url(#b6)" transform="rotate(25 270.5 1558.4)"/>
<ellipse cx="252" cy="1587.9" rx="27" ry="20" fill="#2b2b2b" filter="url(#b6)" transform="rotate(-8 252 1587.9)"/>
<ellipse cx="268" cy="1575" rx="22" ry="28" fill="#2b2b2b" filter="url(#b6)"/>
<ellipse cx="255" cy="1600" rx="28" ry="20" fill="#2b2b2b" filter="url(#b6)"/>
<ellipse cx="246" cy="1542.4" rx="18.5" ry="12.5" fill="#4c4c4c" filter="url(#b5)" transform="rotate(10 246 1542.4)"/>
<ellipse cx="270.5" cy="1558.4" rx="21" ry="13.5" fill="#4c4c4c" filter="url(#b5)" transform="rotate(25 270.5 1558.4)"/>
<ellipse cx="252" cy="1587.9" rx="22" ry="15" fill="#4c4c4c" filter="url(#b5)" transform="rotate(-8 252 1587.9)"/>
<ellipse cx="268" cy="1575" rx="17" ry="23" fill="#4c4c4c" filter="url(#b5)"/>
<ellipse cx="255" cy="1600" rx="23" ry="15" fill="#474747" filter="url(#b5)"/>
<ellipse cx="268" cy="1575" rx="12" ry="18" fill="#6b6b6b" filter="url(#b4)"/>
<ellipse cx="255" cy="1600" rx="18" ry="10" fill="#474747" filter="url(#b4)"/>
<ellipse cx="246" cy="1542.4" rx="16.5" ry="10.5" fill="#787878" filter="url(#b4)" transform="rotate(10 246 1542.4)"/>
<ellipse cx="270.5" cy="1558.4" rx="19" ry="11.5" fill="#787878" filter="url(#b4)" transform="rotate(25 270.5 1558.4)"/>
<ellipse cx="252" cy="1587.9" rx="20" ry="13" fill="#787878" filter="url(#b4)" transform="rotate(-8 252 1587.9)"/>
<ellipse cx="246" cy="1542.4" rx="8.9" ry="5" fill="#969696" filter="url(#b35)" transform="rotate(10 246 1542.4)"/>
<ellipse cx="270.5" cy="1558.4" rx="10.6" ry="5.6" fill="#a3a3a3" filter="url(#b35)" transform="rotate(25 270.5 1558.4)"/>
<ellipse cx="252" cy="1587.9" rx="11.2" ry="6.6" fill="#adadad" filter="url(#b35)" transform="rotate(-8 252 1587.9)"/>
<rect x="315" y="1681" width="60" height="6" rx="2" fill="#1c1c1c" filter="url(#bs)"/>
<rect x="156" y="1494" width="32" height="6" rx="2" fill="#1c1c1c" filter="url(#bs)"/>
</g></g>
<g clip-path="url(#cpe4)"><g filter="url(#cm3)">
<rect x="403.1" y="1446.2" width="269.7" height="267.4" fill="#000"/>
<ellipse cx="544.4" cy="1558.4" rx="33" ry="19.5" fill="#2b2b2b" filter="url(#b6)" transform="rotate(20 544.4 1558.4)"/>
<ellipse cx="544.4" cy="1601.4" rx="30" ry="20.5" fill="#2b2b2b" filter="url(#b6)" transform="rotate(-8 544.4 1601.4)"/>
<ellipse cx="565" cy="1580" rx="17" ry="30" fill="#2b2b2b" filter="url(#b6)"/>
<ellipse cx="527" cy="1575" rx="16" ry="28" fill="#2b2b2b" filter="url(#b6)"/>
<ellipse cx="545" cy="1612" rx="30" ry="19" fill="#2b2b2b" filter="url(#b6)"/>
<ellipse cx="544.4" cy="1558.4" rx="28" ry="14.5" fill="#4c4c4c" filter="url(#b5)" transform="rotate(20 544.4 1558.4)"/>
<ellipse cx="544.4" cy="1601.4" rx="25" ry="15.5" fill="#4c4c4c" filter="url(#b5)" transform="rotate(-8 544.4 1601.4)"/>
<ellipse cx="565" cy="1580" rx="12" ry="25" fill="#4c4c4c" filter="url(#b5)"/>
<ellipse cx="527" cy="1575" rx="11" ry="23" fill="#4c4c4c" filter="url(#b5)"/>
<ellipse cx="545" cy="1612" rx="25" ry="14" fill="#4c4c4c" filter="url(#b5)"/>
<ellipse cx="565" cy="1580" rx="7" ry="20" fill="#707070" filter="url(#b4)"/>
<ellipse cx="527" cy="1575" rx="6" ry="18" fill="#525252" filter="url(#b4)"/>
<ellipse cx="545" cy="1612" rx="20" ry="9" fill="#4c4c4c" filter="url(#b4)"/>
<ellipse cx="544.4" cy="1558.4" rx="26" ry="12.5" fill="#787878" filter="url(#b4)" transform="rotate(20 544.4 1558.4)"/>
<ellipse cx="544.4" cy="1601.4" rx="23" ry="13.5" fill="#787878" filter="url(#b4)" transform="rotate(-8 544.4 1601.4)"/>
<ellipse cx="544.4" cy="1558.4" rx="15.2" ry="6.3" fill="#a1a1a1" filter="url(#b35)" transform="rotate(20 544.4 1558.4)"/>
<ellipse cx="544.4" cy="1601.4" rx="13.2" ry="6.9" fill="#a8a8a8" filter="url(#b35)" transform="rotate(-8 544.4 1601.4)"/>
<rect x="414" y="1483.2" width="28" height="8" rx="2" fill="#383838" filter="url(#bs)"/>
<rect x="471.7" y="1482.7" width="30" height="9" rx="2" fill="#5c5c5c" filter="url(#bs)"/>
<rect x="459.7" y="1481.7" width="11" height="11" rx="2" fill="#b2b2b2" filter="url(#bs)"/>
<rect x="593" y="1691" width="52" height="8" rx="2" fill="#383838" filter="url(#bs)"/>
</g></g>
<g clip-path="url(#cpf1)"><g filter="url(#cm4)">
<rect x="981" y="1182.6" width="269" height="268.4" fill="#000"/>
<ellipse cx="1118.6" cy="1290.2" rx="18.5" ry="21" fill="#2b2b2b" filter="url(#b6)"/>
<ellipse cx="1103.8" cy="1324.5" rx="22.5" ry="28" fill="#2b2b2b" filter="url(#b6)" transform="rotate(-12 1103.8 1324.5)"/>
<ellipse cx="1112" cy="1305" rx="28" ry="40" fill="#2b2b2b" filter="url(#b6)" transform="rotate(12 1112 1305)"/>
<ellipse cx="1130" cy="1310" rx="17" ry="35" fill="#2b2b2b" filter="url(#b6)" transform="rotate(10 1130 1310)"/>
<ellipse cx="1118.6" cy="1290.2" rx="13.5" ry="16" fill="#4c4c4c" filter="url(#b5)"/>
<ellipse cx="1103.8" cy="1324.5" rx="17.5" ry="23" fill="#4c4c4c" filter="url(#b5)" transform="rotate(-12 1103.8 1324.5)"/>
<ellipse cx="1112" cy="1305" rx="23" ry="35" fill="#474747" filter="url(#b5)" transform="rotate(12 1112 1305)"/>
<ellipse cx="1130" cy="1310" rx="12" ry="30" fill="#424242" filter="url(#b5)" transform="rotate(10 1130 1310)"/>
<ellipse cx="1112" cy="1305" rx="18" ry="30" fill="#474747" filter="url(#b4)" transform="rotate(12 1112 1305)"/>
<ellipse cx="1130" cy="1310" rx="7" ry="25" fill="#424242" filter="url(#b4)" transform="rotate(10 1130 1310)"/>
<ellipse cx="1118.6" cy="1290.2" rx="11.5" ry="14" fill="#787878" filter="url(#b4)"/>
<ellipse cx="1103.8" cy="1324.5" rx="15.5" ry="21" fill="#787878" filter="url(#b4)" transform="rotate(-12 1103.8 1324.5)"/>
<ellipse cx="1118.6" cy="1290.2" rx="7.3" ry="9.5" fill="#9c9c9c" filter="url(#b35)"/>
<ellipse cx="1103.8" cy="1324.5" rx="10.8" ry="15.5" fill="#ababab" filter="url(#b35)" transform="rotate(-12 1103.8 1324.5)"/>
<rect x="1024" y="1197.3" width="100" height="11" rx="2" fill="#575757" filter="url(#bs)"/>
<rect x="1030" y="1198.8" width="40" height="8" rx="2" fill="#666666" filter="url(#bs)"/>
<rect x="993" y="1352.1" width="60" height="12" rx="2" fill="#6b6b6b" filter="url(#bs)"/>
<rect x="1004" y="1353.5" width="42" height="9.2" rx="2" fill="#9e9e9e" filter="url(#bs)"/>
<rect x="993" y="1376" width="64" height="8" rx="2" fill="#212121" filter="url(#bs)"/>
<rect x="1175" y="1343" width="20" height="10" rx="2" fill="#575757" filter="url(#bs)"/>
<rect x="1100" y="1396" width="52" height="11" rx="2" fill="#737373" filter="url(#bs)"/>
<rect x="1108" y="1397" width="36" height="9" rx="2" fill="#9e9e9e" filter="url(#bs)"/>
</g></g>
<g clip-path="url(#cpf2)"><g filter="url(#cm5)">
<rect x="1247.4" y="1182.6" width="269" height="268.4" fill="#000"/>
<ellipse cx="1380.4" cy="1324.5" rx="23.5" ry="30" fill="#2b2b2b" filter="url(#b6)"/>
<ellipse cx="1388.4" cy="1289" rx="20" ry="23" fill="#2b2b2b" filter="url(#b6)"/>
<ellipse cx="1382" cy="1312" rx="32" ry="50" fill="#2b2b2b" filter="url(#b6)"/>
<ellipse cx="1399" cy="1312" rx="16" ry="45" fill="#2b2b2b" filter="url(#b6)"/>
<ellipse cx="1380.4" cy="1324.5" rx="18.5" ry="25" fill="#4c4c4c" filter="url(#b5)"/>
<ellipse cx="1388.4" cy="1289" rx="15" ry="18" fill="#4c4c4c" filter="url(#b5)"/>
<ellipse cx="1382" cy="1312" rx="27" ry="45" fill="#383838" filter="url(#b5)"/>
<ellipse cx="1399" cy="1312" rx="11" ry="40" fill="#454545" filter="url(#b5)"/>
<ellipse cx="1382" cy="1312" rx="22" ry="40" fill="#383838" filter="url(#b4)"/>
<ellipse cx="1399" cy="1312" rx="6" ry="35" fill="#454545" filter="url(#b4)"/>
<ellipse cx="1380.4" cy="1324.5" rx="16.5" ry="23" fill="#787878" filter="url(#b4)"/>
<ellipse cx="1388.4" cy="1289" rx="13" ry="16" fill="#6e6e6e" filter="url(#b4)"/>
<ellipse cx="1380.4" cy="1324.5" rx="11.6" ry="17.2" fill="#adadad" filter="url(#b35)"/>
<ellipse cx="1388.4" cy="1289" rx="8.6" ry="11.2" fill="#7d7d7d" filter="url(#b35)"/>
<rect x="1253" y="1320.5" width="18" height="9" rx="2" fill="#404040" filter="url(#bs)"/>
<rect x="1447.5" y="1405.5" width="12" height="10" rx="2" fill="#242424" filter="url(#bs)"/>
</g></g>
<g clip-path="url(#cpf3)"><g filter="url(#cm6)">
<rect x="981" y="1446.2" width="269" height="267.4" fill="#000"/>
<ellipse cx="1118" cy="1600" rx="23" ry="31" fill="#2b2b2b" filter="url(#b6)" transform="rotate(8 1118 1600)"/>
<ellipse cx="1129" cy="1564.5" rx="24" ry="18" fill="#2b2b2b" filter="url(#b6)"/>
<ellipse cx="1136" cy="1590" rx="16" ry="35" fill="#2b2b2b" filter="url(#b6)" transform="rotate(12 1136 1590)"/>
<ellipse cx="1097" cy="1628" rx="18" ry="18" fill="#2b2b2b" filter="url(#b6)"/>
<ellipse cx="1118" cy="1600" rx="18" ry="26" fill="#4c4c4c" filter="url(#b5)" transform="rotate(8 1118 1600)"/>
<ellipse cx="1129" cy="1564.5" rx="19" ry="13" fill="#4c4c4c" filter="url(#b5)"/>
<ellipse cx="1136" cy="1590" rx="11" ry="30" fill="#424242" filter="url(#b5)" transform="rotate(12 1136 1590)"/>
<ellipse cx="1097" cy="1628" rx="13" ry="13" fill="#383838" filter="url(#b5)"/>
<ellipse cx="1136" cy="1590" rx="6" ry="25" fill="#424242" filter="url(#b4)" transform="rotate(12 1136 1590)"/>
<ellipse cx="1097" cy="1628" rx="8" ry="8" fill="#383838" filter="url(#b4)"/>
<ellipse cx="1118" cy="1600" rx="16" ry="24" fill="#787878" filter="url(#b4)" transform="rotate(8 1118 1600)"/>
<ellipse cx="1129" cy="1564.5" rx="17" ry="11" fill="#666666" filter="url(#b4)"/>
<ellipse cx="1118" cy="1600" rx="11.2" ry="18.1" fill="#a3a3a3" filter="url(#b35)" transform="rotate(8 1118 1600)"/>
<ellipse cx="1129" cy="1564.5" rx="12" ry="6.9" fill="#757575" filter="url(#b35)"/>
<rect x="1119.6" y="1636.8" width="36" height="11" rx="2" fill="#787878" filter="url(#bs)"/>
<rect x="1110" y="1668.8" width="34" height="11" rx="2" fill="#757575" filter="url(#bs)"/>
<rect x="1125" y="1669.8" width="18" height="9" rx="2" fill="#8f8f8f" filter="url(#bs)"/>
<rect x="1055" y="1533" width="16" height="10" rx="2" fill="#424242" filter="url(#bs)"/>
<rect x="1224" y="1566" width="16" height="8" rx="2" fill="#2e2e2e" filter="url(#bs)"/>
</g></g>
<g clip-path="url(#cpf4)"><g filter="url(#cm7)">
<rect x="1247.4" y="1446.2" width="269" height="267.4" fill="#000"/>
<ellipse cx="1388.4" cy="1553.5" rx="24" ry="21" fill="#2b2b2b" filter="url(#b6)"/>
<ellipse cx="1384.7" cy="1569.4" rx="19" ry="17.5" fill="#2b2b2b" filter="url(#b6)"/>
<ellipse cx="1372.4" cy="1597.7" rx="28" ry="32" fill="#2b2b2b" filter="url(#b6)" transform="rotate(18 1372.4 1597.7)"/>
<ellipse cx="1372.4" cy="1597.7" rx="17" ry="19" fill="#2b2b2b" filter="url(#b6)"/>
<ellipse cx="1398" cy="1582" rx="16" ry="30" fill="#2b2b2b" filter="url(#b6)" transform="rotate(15 1398 1582)"/>
<ellipse cx="1388.4" cy="1553.5" rx="19" ry="16" fill="#4c4c4c" filter="url(#b5)"/>
<ellipse cx="1384.7" cy="1569.4" rx="14" ry="12.5" fill="#4c4c4c" filter="url(#b5)"/>
<ellipse cx="1372.4" cy="1597.7" rx="23" ry="27" fill="#4c4c4c" filter="url(#b5)" transform="rotate(18 1372.4 1597.7)"/>
<ellipse cx="1372.4" cy="1597.7" rx="12" ry="14" fill="#4c4c4c" filter="url(#b5)"/>
<ellipse cx="1398" cy="1582" rx="11" ry="25" fill="#4c4c4c" filter="url(#b5)" transform="rotate(15 1398 1582)"/>
<ellipse cx="1398" cy="1582" rx="6" ry="20" fill="#4c4c4c" filter="url(#b4)" transform="rotate(15 1398 1582)"/>
<ellipse cx="1388.4" cy="1553.5" rx="17" ry="14" fill="#616161" filter="url(#b4)"/>
<ellipse cx="1384.7" cy="1569.4" rx="12" ry="10.5" fill="#787878" filter="url(#b4)"/>
<ellipse cx="1372.4" cy="1597.7" rx="21" ry="25" fill="#787878" filter="url(#b4)" transform="rotate(18 1372.4 1597.7)"/>
<ellipse cx="1372.4" cy="1597.7" rx="10" ry="12" fill="#787878" filter="url(#b4)"/>
<ellipse cx="1388.4" cy="1553.5" rx="12" ry="9.5" fill="#707070" filter="url(#b35)"/>
<ellipse cx="1384.7" cy="1569.4" rx="7.7" ry="6.5" fill="#a3a3a3" filter="url(#b35)"/>
<ellipse cx="1372.4" cy="1597.7" rx="15.5" ry="18.9" fill="#b8b8b8" filter="url(#b35)" transform="rotate(18 1372.4 1597.7)"/>
<ellipse cx="1372.4" cy="1597.7" rx="6" ry="7.7" fill="#dbdbdb" filter="url(#b35)"/>
<rect x="1326.7" y="1491.6" width="62" height="12" rx="2" fill="#808080" filter="url(#bs)"/>
<rect x="1331" y="1493" width="42" height="9.2" rx="2" fill="#adadad" filter="url(#bs)"/>
<rect x="1448.8" y="1500.9" width="13" height="13" rx="2" fill="#8f8f8f" filter="url(#bs)"/>
<rect x="1401" y="1687.5" width="70" height="13" rx="2" fill="#808080" filter="url(#bs)"/>
<rect x="1411" y="1688.5" width="50" height="11" rx="2" fill="#b8b8b8" filter="url(#bs)"/>
<rect x="1422" y="1689" width="24" height="10" rx="2" fill="#e6e6e6" filter="url(#bs)"/>
<rect x="1480" y="1700" width="28" height="8" rx="2" fill="#383838" filter="url(#bs)"/>
</g></g>
<text x="164.5" y="1239" font-size="38" fill="#ffffff">WT</text>
<rect x="270.7" y="1405.2" width="21" height="3.8" fill="#ffffff"/>
<text x="303.5" y="1415" font-size="37.7" fill="#ffffff">5 nm</text>
<text x="1006.5" y="1238.5" font-size="38.5" fill="#ffffff">MT</text>
<rect x="1113.7" y="1405.6" width="21" height="3.6" fill="#ffffff"/>
<text x="1146.5" y="1414.5" font-size="37.7" fill="#ffffff">5 nm</text>
<rect x="714.2" y="1234.5" width="67.8" height="427" fill="url(#cbar)"/>
<text x="748.2" y="1214" font-size="34" text-anchor="middle" fill="#231815">3 nm</text>
<text x="748.2" y="1700" font-size="34" text-anchor="middle" fill="#231815">0 nm</text>
<rect x="1558.2" y="1234.5" width="67.8" height="427" fill="url(#cbar)"/>
<text x="1592.2" y="1214" font-size="34" text-anchor="middle" fill="#231815">3 nm</text>
<text x="1592.2" y="1700" font-size="34" text-anchor="middle" fill="#231815">0 nm</text>
</svg></body></html>
